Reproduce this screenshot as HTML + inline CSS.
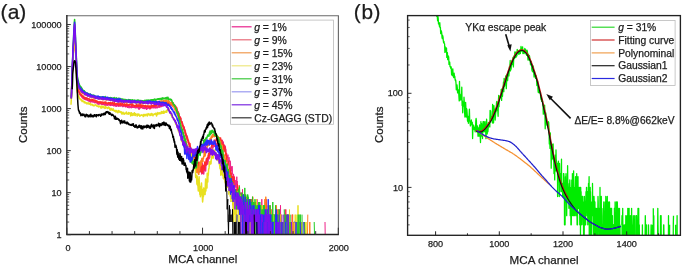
<!DOCTYPE html>
<html><head><meta charset="utf-8"><style>
html,body{margin:0;padding:0;background:#fff;}
svg{display:block;will-change:transform;}
text{font-family:"Liberation Sans", sans-serif; fill:#1c1c1c; stroke:#1c1c1c; stroke-width:0.25px;}
</style></head><body>
<svg width="685" height="270" viewBox="0 0 685 270">
<defs>
<clipPath id="ca"><rect x="67.2" y="15.9" width="270.7" height="218.8"/></clipPath>
<clipPath id="cb"><rect x="407.9" y="15.7" width="271.5" height="219.2"/></clipPath>
</defs>
<g clip-path="url(#ca)">
<path fill="none" stroke="#ee2288" stroke-width="1.5" stroke-linejoin="round" d="M71.3 98.1L71.6 92.1L71.8 84.7L72.1 77.2L72.4 69.7L72.7 63.5L72.9 58.1L73.2 52.8L73.5 48L73.7 43L74 37.8L74.3 33L74.6 30.1L74.8 32.8L75.1 38.4L75.4 44.5L75.6 51L75.9 57L76.2 63.1L76.5 68.7L76.7 74.6L77 79.6L77.3 83.9L77.5 85.6L77.8 87L78.1 88.5L78.4 90.7L78.6 91.4L78.9 92.4L79.2 93.2L79.4 94.3L79.7 94.2L80 94.8L80.3 95.1L80.5 94.7L80.8 95.8L81.1 95.9L81.3 95.9L81.6 96.8L81.9 97L82.2 97.1L82.4 97.3L82.7 98.1L83 97.7L83.2 97.3L83.5 98.7L83.8 97.8L84.1 98.3L84.3 98.8L84.6 97.9L84.9 98.6L85.1 99.6L85.4 99.2L85.7 99.1L86 99.6L86.2 99.4L86.5 99.8L86.8 99.6L87 99.3L87.3 100.3L87.6 100L87.9 100.4L88.1 100.2L88.4 101L88.7 100.8L88.9 100.7L89.2 100.3L89.5 100.2L89.8 101.5L90 101.3L90.3 100.7L90.6 102.1L90.8 101.4L91.1 101.3L91.4 100.8L91.7 101.2L91.9 101.7L92.2 101.8L92.5 101.8L92.7 101.1L93 102.1L93.3 102.1L93.6 101.8L93.8 102.1L94.1 102.2L94.4 102.7L94.6 102.3L94.9 102.5L95.2 101.8L95.5 102.1L95.7 102.5L96 102.3L96.3 102.8L96.5 102.2L96.8 102.8L97.1 102.6L97.4 103.6L97.6 102.8L97.9 103.9L98.2 104.2L98.4 103.4L98.7 103.7L99 103.3L99.3 102.3L99.5 103.9L99.8 103.9L100.1 103.5L100.3 103.4L100.6 103.8L100.9 103.8L101.2 103.4L101.4 103.5L101.7 104.3L102 103.8L102.2 103.8L102.5 104.4L102.8 103.8L103.1 104.4L103.3 103.5L103.6 103.9L103.9 104L104.1 104.3L104.4 104.1L104.7 105.1L104.9 104.7L105.2 104L105.5 105.3L105.8 103.8L106 105.2L106.3 103.9L106.6 104.7L106.8 103.9L107.1 104.3L107.4 105.2L107.7 103.8L107.9 103.7L108.2 104.5L108.5 104.6L108.7 104.6L109 105.1L109.3 104L109.6 104.9L109.8 104.7L110.1 105.1L110.4 105L110.6 105.4L110.9 104.1L111.2 104.9L111.5 104.3L111.7 104.8L112 105.2L112.3 105.1L112.5 105.2L112.8 104.9L113.1 105.2L113.4 105.2L113.6 105.8L113.9 105.5L114.2 104.2L114.4 105.5L114.7 105.7L115 105L115.3 104.5L115.5 106L115.8 105.4L116.1 105.6L116.3 106.3L116.6 105L116.9 105.4L117.2 105.4L117.4 105.8L117.7 105.2L118 105.8L118.2 105.6L118.5 106.1L118.8 106.2L119.1 104.9L119.3 105.9L119.6 105.5L119.9 105.7L120.1 105.9L120.4 106L120.7 105.4L121 105.9L121.2 105.9L121.5 105.8L121.8 105.2L122 105.5L122.3 105.7L122.6 106.2L122.9 106.7L123.1 105.5L123.4 105.5L123.7 106.1L123.9 105.7L124.2 105.6L124.5 105.6L124.8 105.6L125 106.4L125.3 105.3L125.6 106.8L125.8 105.7L126.1 105.9L126.4 105.8L126.7 105.3L126.9 105.5L127.2 106.9L127.5 107.3L127.7 105.9L128 106.9L128.3 106.4L128.6 105.9L128.8 107.3L129.1 107.6L129.4 106.3L129.6 106.5L129.9 106.6L130.2 106.5L130.5 107L130.7 107.4L131 106.7L131.3 107.2L131.5 107.6L131.8 106.4L132.1 106.7L132.4 106.5L132.6 107.3L132.9 107.1L133.2 107.3L133.4 107.3L133.7 106.7L134 107.3L134.3 106.7L134.5 106.7L134.8 105.8L135.1 107.7L135.3 106.5L135.6 107L135.9 107L136.2 107.8L136.4 107.3L136.7 106.7L137 107.1L137.2 107.1L137.5 107.3L137.8 106.5L138.1 107.2L138.3 108.5L138.6 107.6L138.9 108.4L139.1 109.2L139.4 107.6L139.7 106.6L140 107.3L140.2 108L140.5 107.9L140.8 106.8L141 107.3L141.3 107.4L141.6 107.5L141.9 107.5L142.1 107.1L142.4 107.2L142.7 107.4L142.9 108.2L143.2 107.3L143.5 108L143.8 107L144 108.4L144.3 107.7L144.6 107.7L144.8 108.4L145.1 106.8L145.4 106.9L145.7 108L145.9 107.3L146.2 107.6L146.5 109.3L146.7 107.7L147 107.8L147.3 107.8L147.6 108.5L147.8 108L148.1 108L148.4 107.2L148.6 107.7L148.9 107.9L149.2 107.1L149.5 108.3L149.7 108.2L150 109L150.3 107.1L150.5 107.4L150.8 107.4L151.1 107.5L151.4 107.7L151.6 107.7L151.9 107.9L152.2 107.8L152.4 107.6L152.7 106.8L153 107.3L153.3 107.6L153.5 107.8L153.8 107.8L154.1 106.6L154.3 107.1L154.6 107.3L154.9 107.5L155.2 107.9L155.4 107.3L155.7 106.7L156 107.4L156.2 107.3L156.5 107.2L156.8 107L157.1 107.9L157.3 107.1L157.6 107.4L157.9 106.4L158.1 107.3L158.4 106.5L158.7 106L159 106.9L159.2 107L159.5 106.6L159.8 106.6L160 107.1L160.3 106.2L160.6 105.3L160.9 106.3L161.1 106.2L161.4 106.5L161.7 105.7L161.9 106.4L162.2 106.2L162.5 104.8L162.8 105.8L163 104.6L163.3 104.3L163.6 104.8L163.8 104.5L164.1 103.7L164.4 104.7L164.7 104.7L164.9 105L165.2 104.2L165.5 103.3L165.7 103.4L166 104.3L166.3 104.3L166.6 104.1L166.8 103.7L167.1 104L167.4 103.8L167.6 103.7L167.9 104L168.2 103.9L168.5 103.8L168.7 104L169 103.7L169.3 103L169.5 103.7L169.8 104L170.1 104.9L170.4 103.9L170.6 105.2L170.9 104.9L171.2 103.8L171.4 104L171.7 104.5L172 105.3L172.2 104.7L172.5 104.9L172.8 104.3L173.1 103.5L173.3 104.6L173.6 105.2L173.9 105.5L174.1 105L174.4 105.2L174.7 106L175 105.8L175.2 107L175.5 106.2L175.8 106.8L176 107.2L176.3 108.6L176.6 108.5L176.9 109.4L177.1 110.1L177.4 110.6L177.7 111.8L177.9 112.6L178.2 111.9L178.5 113.3L178.8 113.7L179 113.9L179.3 116.6L179.6 116.6L179.8 116.6L180.1 117.2L180.4 118.5L180.7 118.2L180.9 119.6L181.2 121.6L181.5 122.2L181.7 121.6L182 122.7L182.3 125.6L182.6 123.5L182.8 125L183.1 125.1L183.4 127.5L183.6 128.2L183.9 129.9L184.2 127.1L184.5 130.5L184.7 129.5L185 132.7L185.3 132.6L185.5 135.6L185.8 134.8L186.1 134L186.4 137.6L186.6 135.5L186.9 137.2L187.2 136.1L187.4 139.4L187.7 139.8L188 140.4L188.3 143L188.5 141.4L188.8 143.1L189.1 144.4L189.3 143.6L189.6 145.3L189.9 146.6L190.2 146.6L190.4 148.7L190.7 149.6L191 148.6L191.2 149.2L191.5 152.6L191.8 150.8L192.1 153.6L192.3 153.8L192.6 156.1L192.9 158L193.1 158.2L193.4 158.8L193.7 159.4L194 155.9L194.2 158.2L194.5 157.2L194.8 160.6L195 161.6L195.3 159.1L195.6 160.3L195.9 163.7L196.1 166L196.4 162.2L196.7 170.9L196.9 162.2L197.2 172L197.5 168.3L197.8 167.8L198 169.3L198.3 166.9L198.6 169.3L198.8 169.8L199.1 168.3L199.4 166L199.7 172L199.9 166L200.2 163.7L200.5 167.4L200.7 166.5L201 171.4L201.3 169.3L201.6 169.8L201.8 173.9L202.1 173.2L202.4 162.9L202.6 173.2L202.9 170.3L203.2 170.3L203.5 172.6L203.7 173.9L204 170.9L204.3 166.9L204.5 164.4L204.8 166.9L205.1 166L205.4 164.4L205.6 170.9L205.9 164.4L206.2 163.3L206.4 158.8L206.7 164.8L207 161.2L207.3 159.1L207.5 162.6L207.8 164L208.1 161.2L208.3 155.4L208.6 155.2L208.9 155.2L209.2 158.8L209.4 154.3L209.7 157.7L210 151.2L210.2 153L210.5 151.6L210.8 152.8L211.1 151.8L211.3 154.7L211.6 149.2L211.9 151L212.1 149.4L212.4 149.6L212.7 147.2L213 147.8L213.2 145.9L213.5 145.4L213.8 145L214 146L214.3 145.9L214.6 146.3L214.9 146.4L215.1 146.4L215.4 144.6L215.7 145.2L215.9 143.9L216.2 145.7L216.5 143.4L216.8 146L217 143.2L217.3 145.2L217.6 140.6L217.8 141.9L218.1 142.3L218.4 141.6L218.7 143.5L218.9 137.6L219.2 139.7L219.5 139.9L219.7 139.9L220 140.3L220.3 140.4L220.6 142.6L220.8 139.9L221.1 141.4L221.4 142.3L221.6 142.6L221.9 141.6L222 144.8L222.2 140.3L222.5 144.2L222.8 147.6L223 145.6L223.2 141.9L223.5 146.9L223.8 145.4L224 146.3L224.2 147.2L224.5 145.7L224.8 145.9L225 146.6L225.2 146.4L225.5 149.2L225.8 149.4L226 152.6"/>
<path fill="none" stroke="#ee2288" stroke-width="1.0" stroke-linejoin="round" d="M226 152.6L226.2 155.4L226.5 154.5L226.8 153.6L227 155.2L227.2 155.6L227.5 157.4L227.8 154.9L228 154.7L228.2 159.7L228.5 161.2L228.8 160.9L229 157.2L229.2 160.6L229.5 161.6L229.8 160.3L230 169.8L230.2 161.2L230.5 162.6L230.8 173.9L231 168.8L231.2 166.9L231.5 166.9L231.8 171.4L232 166L232.2 166.9L232.5 174.5L232.8 174.5L233 175.9L233.2 181L233.5 173.9L233.8 175.9L234 181.9L234.2 181.9L234.5 176.7L234.8 183L235 186.5L235.2 180L235.5 186.5L235.8 183L236 187.9L236.2 185.3L236.5 184.1L236.8 176.7L237 192.7L237.2 181L237.5 189.3L237.8 187.9L238 194.6L238.2 209.4L238.5 202L238.8 202L239 214.6L239.2 202L239.5 190.9L239.8 196.7L240 199.2L240.2 192.7L240.5 205.3L240.8 192.7L241 202L241.2 209.4L241.5 209.4L241.8 192.7L242 199.2L242.2 214.6L242.5 189.3L242.8 205.3L243 234.7L243.2 209.4L243.5 199.2L243.8 199.2L244 214.6L244.2 222L244.5 209.4L244.8 205.3L245 205.3L245.2 194.6L245.5 196.7L245.8 202L246 222L246.2 209.4L246.5 209.4L246.8 205.3L247 209.4L247.2 209.4L247.5 202L247.8 199.2L248 209.4L248.2 222L248.5 205.3L248.8 214.6L249 214.6L249.2 202L249.5 199.2L249.8 205.3L250 209.4L250.2 214.6L250.5 202L250.8 209.4L251 209.4L251.2 222L251.5 222L251.8 209.4L252 214.6L252.2 199.2L252.5 209.4L252.8 202L253 222M253.5 209.4L253.8 222L254 209.4L254.2 222L254.5 234.7L254.8 214.6L255 209.4L255.2 222L255.5 214.6L255.8 202L256 214.6L256.2 222L256.5 202L256.8 214.6L257 199.2L257.2 214.6L257.5 205.3L257.8 209.4L258 209.4L258.2 209.4L258.5 214.6L258.8 214.6L259 209.4L259.2 214.6L259.5 222L259.8 234.7L260 222L260.2 214.6L260.5 222L260.8 222L261 214.6L261.2 222L261.5 214.6L261.8 199.2L262 214.6L262.2 234.7L262.5 214.6L262.8 214.6L263 222M263.5 222L263.8 209.4L264 205.3L264.2 214.6L264.5 234.7L264.8 214.6L265 214.6M265.5 222L265.8 205.3L266 234.7L266.2 234.7L266.5 222L266.8 214.6L267 222M267.8 214.6L268 222L268.2 234.7M268.8 222M269.2 222L269.5 222L269.8 222L270 214.6L270.2 234.7M270.8 234.7L271 209.4L271.2 222L271.5 222L271.8 234.7L272 214.6L272.2 234.7L272.5 214.6M273 214.6L273.2 234.7L273.5 214.6M274.2 214.6L274.5 222M275 222L275.2 234.7L275.5 214.6M276 234.7M276.8 234.7L277 222M277.5 222L277.8 234.7M278.2 222M278.8 222L279 209.4L279.2 234.7L279.5 234.7L279.8 222M280.2 234.7L280.5 205.3L280.8 234.7L281 234.7M281.5 234.7L281.8 234.7M282.2 214.6M282.8 214.6M283.2 234.7M283.8 234.7M284.2 234.7L284.5 234.7L284.8 234.7L285 222L285.2 209.4L285.5 234.7L285.8 234.7M286.5 234.7L286.8 214.6L287 222M287.8 234.7L288 234.7L288.2 222M288.8 214.6L289 222L289.2 234.7L289.5 234.7M290 234.7L290.2 234.7L290.5 234.7M291 234.7L291.2 234.7M291.8 222L292 234.7M292.5 214.6M293.2 234.7M293.8 234.7M294.8 234.7M295.5 234.7L295.8 234.7L296 234.7L296.2 234.7L296.5 222M297 234.7L297.2 234.7L297.5 234.7L297.8 234.7M299.2 234.7M299.8 234.7M300.5 234.7L300.8 222M301.8 234.7M302.2 234.7M302.8 234.7L303 234.7L303.2 234.7M303.8 209.4M304.8 234.7M306.2 234.7M306.8 234.7M307.2 222M307.8 222M308.2 234.7M309.2 234.7M310.2 234.7M310.8 234.7M311.2 234.7L311.5 234.7M314 234.7M315.5 234.7M316 234.7M317.5 234.7L317.8 234.7M319.8 234.7M325 222L325.2 234.7"/>
<path fill="none" stroke="#ff2a2a" stroke-width="1.5" stroke-linejoin="round" d="M71.3 98.7L71.6 92L71.8 84.7L72.1 77.1L72.4 69.9L72.7 63.6L72.9 58L73.2 53.1L73.5 48L73.7 42.8L74 37.8L74.3 32.9L74.6 30.1L74.8 32.9L75.1 38.4L75.4 44.6L75.6 50.7L75.9 56.9L76.2 62.6L76.5 68.3L76.7 74L77 79.4L77.3 83.4L77.5 85.4L77.8 86.7L78.1 87.6L78.4 89.3L78.6 89.7L78.9 91.5L79.2 91.8L79.4 92.6L79.7 93L80 92.6L80.3 93.8L80.5 94.5L80.8 94.7L81.1 94.9L81.3 94.3L81.6 95.4L81.9 95.4L82.2 96.5L82.4 96.1L82.7 96.1L83 95.8L83.2 97L83.5 96.6L83.8 96.9L84.1 97.6L84.3 97.3L84.6 97.6L84.9 98.7L85.1 97.6L85.4 97.7L85.7 98.3L86 98.9L86.2 97.7L86.5 98.3L86.8 98.1L87 98L87.3 98.9L87.6 98.4L87.9 99L88.1 99L88.4 99.1L88.7 99.1L88.9 98.7L89.2 99.3L89.5 99.5L89.8 99.6L90 99.4L90.3 100.1L90.6 100L90.8 99.9L91.1 100.2L91.4 100.1L91.7 100.4L91.9 99.3L92.2 99.6L92.5 100.1L92.7 100.4L93 99.5L93.3 100.4L93.6 100.6L93.8 100.5L94.1 100.6L94.4 100.1L94.6 100.9L94.9 100L95.2 101.4L95.5 100.7L95.7 101.6L96 100.4L96.3 101.4L96.5 101.4L96.8 101L97.1 100.9L97.4 102.1L97.6 101.8L97.9 102.4L98.2 101.7L98.4 101.9L98.7 102L99 102.3L99.3 102.2L99.5 102.4L99.8 101.9L100.1 101.5L100.3 103.2L100.6 102.3L100.9 102.5L101.2 102.1L101.4 102.8L101.7 102.4L102 102.9L102.2 102.1L102.5 102.4L102.8 102.6L103.1 102.3L103.3 102.7L103.6 103.3L103.9 102.3L104.1 102.5L104.4 102.7L104.7 102.2L104.9 102.1L105.2 103.3L105.5 103.1L105.8 102L106 102.1L106.3 103.2L106.6 103.4L106.8 103.2L107.1 103.2L107.4 103.7L107.7 103L107.9 103.6L108.2 103.6L108.5 102.6L108.7 103.4L109 103.1L109.3 102.8L109.6 102.8L109.8 103.4L110.1 103.2L110.4 103.7L110.6 102.4L110.9 103L111.2 103.9L111.5 103.3L111.7 103L112 103.2L112.3 102.5L112.5 102.8L112.8 103.8L113.1 103.6L113.4 104.2L113.6 103.4L113.9 103.5L114.2 102.3L114.4 103.6L114.7 104.8L115 104L115.3 103.7L115.5 104.4L115.8 104.2L116.1 104L116.3 103.7L116.6 103.9L116.9 104.3L117.2 103.5L117.4 104.2L117.7 104.2L118 104.7L118.2 104.4L118.5 103.7L118.8 104.9L119.1 104.1L119.3 103.8L119.6 104.4L119.9 104.1L120.1 104.8L120.4 103.6L120.7 103.7L121 104.2L121.2 105.2L121.5 104.9L121.8 103.9L122 103.5L122.3 104.2L122.6 103.8L122.9 104.7L123.1 104.6L123.4 104.5L123.7 104.3L123.9 105.3L124.2 104.1L124.5 103.9L124.8 105.2L125 105.3L125.3 104.5L125.6 105L125.8 106L126.1 104.3L126.4 104.6L126.7 105L126.9 103.7L127.2 104.7L127.5 105.2L127.7 104.8L128 105.4L128.3 105.3L128.6 104.7L128.8 105.2L129.1 105.2L129.4 104.1L129.6 104.5L129.9 104.6L130.2 104.8L130.5 104.8L130.7 104.3L131 105.1L131.3 104.2L131.5 105.7L131.8 105.3L132.1 105.9L132.4 105.4L132.6 105L132.9 104.5L133.2 105.6L133.4 105.3L133.7 105.5L134 105.7L134.3 106L134.5 105.4L134.8 106.4L135.1 105.4L135.3 105.4L135.6 105.8L135.9 106L136.2 106.3L136.4 104.6L136.7 106.3L137 104.8L137.2 105.3L137.5 105.8L137.8 106.3L138.1 105.1L138.3 104.8L138.6 106.2L138.9 105.9L139.1 105.2L139.4 105.6L139.7 104.8L140 106.1L140.2 105.6L140.5 106.6L140.8 104.8L141 106.3L141.3 107.2L141.6 106L141.9 106.1L142.1 105L142.4 106.2L142.7 106L142.9 105.7L143.2 105.2L143.5 106.1L143.8 105.6L144 105.8L144.3 106.3L144.6 106.1L144.8 106.2L145.1 106.7L145.4 105.6L145.7 107L145.9 105.6L146.2 105.8L146.5 106.3L146.7 106.7L147 106.4L147.3 106.1L147.6 105.9L147.8 106.2L148.1 105.9L148.4 106.7L148.6 106.3L148.9 107.3L149.2 106L149.5 106.4L149.7 106.7L150 105.9L150.3 106.1L150.5 108L150.8 106.3L151.1 107.1L151.4 105.7L151.6 104.9L151.9 106.4L152.2 106L152.4 106.1L152.7 105.8L153 105.6L153.3 105.2L153.5 106.3L153.8 104.9L154.1 106.2L154.3 105.5L154.6 105L154.9 105.1L155.2 106L155.4 105.8L155.7 105.6L156 105.3L156.2 104.7L156.5 105.9L156.8 104.9L157.1 104.8L157.3 104.7L157.6 104.7L157.9 104.2L158.1 104.6L158.4 104.4L158.7 104.5L159 103.8L159.2 105.7L159.5 103.9L159.8 104.7L160 104.6L160.3 104.9L160.6 105.3L160.9 104.4L161.1 104.5L161.4 103.8L161.7 104.7L161.9 103.1L162.2 103.6L162.5 103.8L162.8 103.9L163 103.9L163.3 104L163.6 103.6L163.8 103.2L164.1 103.2L164.4 103.8L164.7 103.1L164.9 103.3L165.2 102.7L165.5 101.8L165.7 102.3L166 102.7L166.3 103.3L166.6 103.3L166.8 103.4L167.1 102.3L167.4 103L167.6 102.7L167.9 103L168.2 102.7L168.5 102.1L168.7 103.2L169 103L169.3 103.3L169.5 102.5L169.8 103.5L170.1 103.6L170.4 103.8L170.6 103.9L170.9 103.1L171.2 102.1L171.4 104L171.7 103.1L172 103.5L172.2 104.3L172.5 104L172.8 104L173.1 104.4L173.3 103.1L173.6 105.2L173.9 104.1L174.1 104.4L174.4 105.3L174.7 105.4L175 105.5L175.2 106.4L175.5 106.7L175.8 107L176 109L176.3 107.5L176.6 107.5L176.9 108.7L177.1 109.3L177.4 111.5L177.7 111.4L177.9 112.6L178.2 113.2L178.5 112.9L178.8 114.8L179 115.1L179.3 117.1L179.6 116.6L179.8 117.1L180.1 118.5L180.4 119.3L180.7 118.1L180.9 121.3L181.2 122L181.5 122.5L181.7 121.7L182 121.7L182.3 123.9L182.6 125.7L182.8 126.2L183.1 125.6L183.4 128.3L183.6 126.7L183.9 127.5L184.2 129.5L184.5 129.7L184.7 130.3L185 130.2L185.3 133.8L185.5 132L185.8 134.5L186.1 135.7L186.4 135.4L186.6 136.5L186.9 138.3L187.2 139.9L187.4 137.5L187.7 139.2L188 140L188.3 140L188.5 142.8L188.8 142.8L189.1 142.9L189.3 146.4L189.6 145L189.9 143.4L190.2 146.7L190.4 147L190.7 148.1L191 150.5L191.2 148.9L191.5 150.6L191.8 149.4L192.1 154.5L192.3 155.4L192.6 152.2L192.9 158L193.1 158.2L193.4 157.2L193.7 155.4L194 156.6L194.2 156.9L194.5 162.2L194.8 161.2L195 156.9L195.3 158.8L195.6 162.2L195.9 160.6L196.1 162.6L196.4 164.8L196.7 161.2L196.9 161.2L197.2 166.9L197.5 160.3L197.8 168.3L198 162.2L198.3 168.3L198.6 164L198.8 167.4L199.1 162.2L199.4 163.3L199.7 167.4L199.9 169.8L200.2 169.3L200.5 167.4L200.7 165.2L201 168.3L201.3 172L201.6 167.4L201.8 164.4L202.1 172.6L202.4 167.8L202.6 172.6L202.9 166.9L203.2 166L203.5 165.6L203.7 166.9L204 168.3L204.3 167.8L204.5 169.8L204.8 161.9L205.1 162.9L205.4 164.4L205.6 164.8L205.9 165.2L206.2 162.6L206.4 160L206.7 162.6L207 158.8L207.3 157.7L207.5 158.8L207.8 157.7L208.1 157.2L208.3 157.4L208.6 153.4L208.9 153.6L209.2 155.4L209.4 155.2L209.7 151.6L210 151L210.2 152.2L210.5 149.1L210.8 148.1L211.1 147.5L211.3 147L211.6 146.3L211.9 144.1L212.1 145.7L212.4 146L212.7 143L213 144.4L213.2 144.4L213.5 144L213.8 143.6L214 141.9L214.3 140.1L214.6 143.1L214.9 142.8L215.1 142.9L215.4 142.5L215.7 140.6L215.9 141.6L216.2 139L216.5 140.2L216.8 139.8L217 140L217.3 139.6L217.6 138.4L217.8 138.2L218.1 138.2L218.4 137.3L218.7 141.3L218.9 138.8L219.2 140L219.5 141.4L219.7 141L220 138L220.3 139.4L220.6 138L220.8 141.8L221.1 141.7L221.4 143.5L221.6 140.4L221.9 143L222 143.9L222.2 145.3L222.5 144.8L222.8 149.2L223 148.1L223.2 145.3L223.5 146.9L223.8 144.6L224 150.3L224.2 151L224.5 150.5L224.8 150.6L225 147.5L225.2 151.6L225.5 152.6L225.8 155.4L226 152.6"/>
<path fill="none" stroke="#ff2a2a" stroke-width="1.0" stroke-linejoin="round" d="M226 152.6L226.2 160.6L226.5 154.7L226.8 161.9L227 156.9L227.2 163.3L227.5 163.3L227.8 165.6L228 165.2L228.2 164L228.5 161.2L228.8 165.2L229 166.9L229.2 172.6L229.5 170.9L229.8 167.8L230 175.9L230.2 169.8L230.5 170.3L230.8 173.2L231 181.9L231.2 172.6L231.5 175.9L231.8 178.3L232 176.7L232.2 181.9L232.5 178.3L232.8 175.9L233 175.9L233.2 190.9L233.5 181.9L233.8 180L234 176.7L234.2 185.3L234.5 186.5L234.8 187.9L235 190.9L235.2 189.3L235.5 199.2L235.8 202L236 192.7L236.2 194.6L236.5 189.3L236.8 199.2L237 189.3L237.2 196.7L237.5 184.1L237.8 199.2L238 194.6L238.2 205.3L238.5 202L238.8 187.9L239 196.7L239.2 185.3L239.5 209.4L239.8 199.2L240 202L240.2 202L240.5 199.2L240.8 194.6L241 199.2L241.2 199.2L241.5 194.6L241.8 205.3L242 205.3L242.2 205.3L242.5 214.6L242.8 209.4L243 196.7L243.2 205.3L243.5 205.3L243.8 214.6L244 199.2L244.2 209.4L244.5 205.3L244.8 194.6L245 199.2L245.2 202L245.5 205.3L245.8 202L246 209.4L246.2 205.3L246.5 214.6L246.8 202L247 199.2L247.2 205.3L247.5 205.3L247.8 214.6L248 199.2L248.2 205.3L248.5 214.6L248.8 222L249 234.7L249.2 199.2L249.5 234.7L249.8 209.4L250 214.6L250.2 199.2L250.5 214.6L250.8 214.6L251 234.7M251.5 214.6L251.8 199.2L252 214.6L252.2 209.4L252.5 214.6L252.8 202L253 209.4L253.2 214.6L253.5 234.7L253.8 222L254 214.6L254.2 205.3L254.5 202L254.8 209.4L255 209.4L255.2 234.7L255.5 205.3L255.8 205.3L256 222L256.2 222L256.5 205.3L256.8 222L257 222L257.2 205.3L257.5 222M258 214.6L258.2 222L258.5 209.4L258.8 205.3L259 234.7M259.5 222L259.8 209.4L260 222L260.2 222L260.5 214.6L260.8 209.4L261 222L261.2 214.6L261.5 209.4L261.8 234.7L262 214.6L262.2 234.7L262.5 214.6L262.8 234.7L263 234.7L263.2 209.4L263.5 209.4L263.8 214.6L264 234.7L264.2 205.3L264.5 222L264.8 222L265 222L265.2 205.3L265.5 234.7L265.8 202L266 222L266.2 199.2L266.5 214.6M267 214.6L267.2 222M267.8 214.6L268 222L268.2 234.7L268.5 214.6L268.8 214.6M269.2 222M269.8 209.4L270 205.3L270.2 214.6L270.5 214.6L270.8 222L271 214.6M271.5 214.6M272 222L272.2 222L272.5 222L272.8 234.7L273 222M273.5 214.6L273.8 214.6L274 234.7M274.5 222L274.8 234.7L275 222L275.2 222L275.5 234.7M276 234.7L276.2 234.7L276.5 234.7L276.8 234.7L277 209.4L277.2 222L277.5 234.7L277.8 234.7M278.5 234.7L278.8 234.7L279 234.7L279.2 234.7L279.5 222L279.8 234.7L280 234.7L280.2 234.7L280.5 222M281 234.7L281.2 234.7L281.5 234.7L281.8 234.7M282.2 234.7L282.5 234.7M283 234.7L283.2 234.7M283.8 222L284 222L284.2 222M284.8 234.7M285.5 214.6L285.8 222L286 209.4M286.8 214.6M287.2 234.7M288 222M288.8 234.7L289 222M289.5 214.6M290 222L290.2 234.7L290.5 234.7L290.8 222L291 234.7M291.5 222M292 214.6L292.2 222L292.5 214.6M293 214.6M293.5 222L293.8 234.7L294 234.7M294.5 234.7L294.8 234.7M295.8 234.7L296 222M296.5 234.7M297 234.7M297.8 234.7M299 234.7M299.5 222M300 234.7L300.2 234.7M300.8 214.6M301.5 234.7L301.8 222M303.2 234.7L303.5 234.7M304 234.7L304.2 234.7L304.5 234.7M308 234.7L308.2 234.7M309 234.7L309.2 234.7M311 234.7M313.2 234.7M314 234.7L314.2 234.7M316.2 234.7M318 234.7M319.5 234.7M320.2 234.7L320.5 234.7"/>
<path fill="none" stroke="#ff8020" stroke-width="1.5" stroke-linejoin="round" d="M71.3 99L71.6 91.6L71.8 83.6L72.1 75.9L72.4 67.8L72.7 61.6L72.9 56.2L73.2 51L73.5 46L73.7 40.7L74 36L74.3 30.9L74.6 28.1L74.8 30.9L75.1 36.6L75.4 42.6L75.6 48.9L75.9 54.9L76.2 60.6L76.5 66.6L76.7 72.4L77 78.2L77.3 81.4L77.5 83.6L77.8 84.3L78.1 85.4L78.4 86.9L78.6 87L78.9 88.1L79.2 88.8L79.4 89.9L79.7 90L80 90.3L80.3 90.6L80.5 91.2L80.8 90.9L81.1 91.3L81.3 91.6L81.6 92.2L81.9 91.9L82.2 92.5L82.4 93.8L82.7 93.1L83 93.1L83.2 92.9L83.5 93.5L83.8 93.6L84.1 93.9L84.3 93.6L84.6 94.2L84.9 94.4L85.1 94.6L85.4 94.2L85.7 94.8L86 95.4L86.2 94.6L86.5 95.3L86.8 94.9L87 95L87.3 94.8L87.6 95L87.9 95.7L88.1 95.6L88.4 96.2L88.7 95.1L88.9 95.7L89.2 95.4L89.5 96.2L89.8 97L90 95.7L90.3 96.3L90.6 96.4L90.8 96.6L91.1 96.4L91.4 96.6L91.7 97.6L91.9 96.5L92.2 97.3L92.5 97.3L92.7 96.4L93 96.8L93.3 97.4L93.6 98.1L93.8 97.3L94.1 97.2L94.4 97.5L94.6 98.1L94.9 97.9L95.2 98.2L95.5 97.6L95.7 97.4L96 97.4L96.3 98.2L96.5 97.8L96.8 97.7L97.1 98.2L97.4 98.1L97.6 97.2L97.9 98.1L98.2 97.9L98.4 98.5L98.7 98.3L99 99.2L99.3 98.5L99.5 98L99.8 97.7L100.1 98.1L100.3 98.3L100.6 98.7L100.9 99L101.2 98.8L101.4 98.5L101.7 99.2L102 98.5L102.2 99.4L102.5 99.8L102.8 99.4L103.1 99.8L103.3 99.7L103.6 98.6L103.9 99.2L104.1 99.1L104.4 98.7L104.7 98.7L104.9 99.5L105.2 98.7L105.5 99.2L105.8 99.4L106 99.2L106.3 100.1L106.6 99.9L106.8 99.6L107.1 99.3L107.4 99.8L107.7 99.7L107.9 99.3L108.2 99.1L108.5 99.4L108.7 99.3L109 100L109.3 100L109.6 99.8L109.8 100.1L110.1 100.2L110.4 99.3L110.6 100.2L110.9 100.6L111.2 100L111.5 99.4L111.7 100.2L112 99.7L112.3 100.5L112.5 100.6L112.8 100.7L113.1 100.5L113.4 99.7L113.6 101.1L113.9 99.8L114.2 101.1L114.4 100.8L114.7 100.3L115 100.5L115.3 100.7L115.5 101.6L115.8 100.7L116.1 101.4L116.3 99.8L116.6 101.1L116.9 100.9L117.2 101.6L117.4 101.3L117.7 101.8L118 100.7L118.2 101.4L118.5 101L118.8 101.6L119.1 101.6L119.3 100.8L119.6 101.9L119.9 102.4L120.1 101.3L120.4 102.1L120.7 101.8L121 101.1L121.2 102L121.5 101.2L121.8 101.9L122 100.9L122.3 101L122.6 101.9L122.9 101.8L123.1 102.1L123.4 101.6L123.7 101.2L123.9 102.4L124.2 101.3L124.5 102.4L124.8 102.2L125 102.7L125.3 100.8L125.6 101.8L125.8 101.7L126.1 102.2L126.4 101.4L126.7 102.9L126.9 101.9L127.2 100.9L127.5 102.1L127.7 101.9L128 101.7L128.3 102.4L128.6 102L128.8 101.6L129.1 101.9L129.4 101.9L129.6 102.2L129.9 101.9L130.2 102.1L130.5 101.4L130.7 101.8L131 102.3L131.3 103.4L131.5 101.8L131.8 101.8L132.1 102.7L132.4 103.2L132.6 102.8L132.9 101.8L133.2 102.8L133.4 102.5L133.7 102.2L134 101.7L134.3 102.4L134.5 102.4L134.8 102.6L135.1 101.6L135.3 101.9L135.6 102.5L135.9 103.1L136.2 102.8L136.4 102.2L136.7 102.8L137 102.1L137.2 102.3L137.5 102.4L137.8 102.2L138.1 102.3L138.3 103L138.6 102.8L138.9 101.5L139.1 103.2L139.4 102.9L139.7 102.1L140 102.8L140.2 103.1L140.5 103.4L140.8 102.5L141 102.2L141.3 102.1L141.6 102.7L141.9 102.3L142.1 103.3L142.4 102.7L142.7 103.1L142.9 102.7L143.2 102.4L143.5 102.3L143.8 103.3L144 102.2L144.3 103L144.6 103.3L144.8 102.9L145.1 103.5L145.4 102.8L145.7 102.7L145.9 102.9L146.2 102.5L146.5 103L146.7 102.8L147 103.5L147.3 102.8L147.6 103.2L147.8 103L148.1 102.8L148.4 102.7L148.6 103.6L148.9 103.6L149.2 102.9L149.5 102.6L149.7 102.6L150 102.4L150.3 102.1L150.5 102.5L150.8 102.7L151.1 103.2L151.4 103.2L151.6 102.9L151.9 102.5L152.2 102.5L152.4 102.6L152.7 102.7L153 102.3L153.3 102.4L153.5 102.4L153.8 102.3L154.1 102.7L154.3 103L154.6 102.2L154.9 102.2L155.2 102.5L155.4 102.6L155.7 101.3L156 102.7L156.2 102.4L156.5 102.2L156.8 102.8L157.1 102.2L157.3 101.4L157.6 101.7L157.9 101.9L158.1 101.9L158.4 102.1L158.7 101.6L159 102.2L159.2 102.3L159.5 102L159.8 101.6L160 101.8L160.3 101.6L160.6 102.8L160.9 101.2L161.1 100.6L161.4 101L161.7 101.7L161.9 101.9L162.2 101.3L162.5 101.8L162.8 100.9L163 101.4L163.3 100.6L163.6 100.4L163.8 101.9L164.1 100.7L164.4 101.1L164.7 101.4L164.9 101L165.2 100.8L165.5 100.2L165.7 101.5L166 100.4L166.3 100L166.6 100.8L166.8 100.9L167.1 101.2L167.4 101.9L167.6 101.1L167.9 101.3L168.2 101.3L168.5 100.6L168.7 101.6L169 101.9L169.3 101.5L169.5 103L169.8 103.1L170.1 102.9L170.4 103.2L170.6 102.9L170.9 103.7L171.2 103L171.4 103.5L171.7 104.2L172 105.1L172.2 105L172.5 105.2L172.8 106.5L173.1 106.1L173.3 106.3L173.6 106.9L173.9 106.5L174.1 107.1L174.4 108.8L174.7 108.7L175 109.8L175.2 109.5L175.5 110.8L175.8 110.3L176 111.1L176.3 111.2L176.6 112.4L176.9 113.9L177.1 112.5L177.4 114.6L177.7 114.5L177.9 116L178.2 116.7L178.5 116.8L178.8 118.8L179 118.9L179.3 122.1L179.6 121.1L179.8 123L180.1 123.8L180.4 124.6L180.7 125.2L180.9 124.9L181.2 129.2L181.5 128.2L181.7 129.9L182 128.8L182.3 131.3L182.6 131.2L182.8 133L183.1 132.7L183.4 133.2L183.6 135.7L183.9 136L184.2 138.8L184.5 137.4L184.7 138.7L185 139.8L185.3 138.5L185.5 142.5L185.8 145.2L186.1 143L186.4 141.7L186.6 145.7L186.9 145.4L187.2 147.8L187.4 146L187.7 149.2L188 149.4L188.3 148.7L188.5 152L188.8 152.6L189.1 153L189.3 154.7L189.6 152.6L189.9 154L190.2 157.4L190.4 158L190.7 156.4L191 156.1L191.2 156.4L191.5 158.5L191.8 156.6L192.1 159.7L192.3 157.4L192.6 161.6L192.9 164L193.1 164.4L193.4 162.6L193.7 163.7L194 164L194.2 167.8L194.5 168.3L194.8 164.8L195 167.4L195.3 166.9L195.6 168.3L195.9 171.4L196.1 165.6L196.4 167.4L196.7 172.6L196.9 165.2L197.2 169.8L197.5 164L197.8 170.9L198 166L198.3 173.9L198.6 169.8L198.8 174.5L199.1 168.8L199.4 170.3L199.7 167.8L199.9 162.9L200.2 161.9L200.5 166L200.7 165.6L201 160.6L201.3 164.8L201.6 162.2L201.8 158.5L202.1 158.2L202.4 158.2L202.6 158.8L202.9 161.6L203.2 158.5L203.5 158.5L203.7 156.4L204 156.6L204.3 150.6L204.5 153.8L204.8 153.8L205.1 155.9L205.4 154L205.6 148.9L205.9 152.6L206.2 149.2L206.4 149.6L206.7 146.9L207 147.2L207.3 146.9L207.5 142.5L207.8 144.2L208.1 143.4L208.3 143.2L208.6 145.6L208.9 143.2L209.2 143.7L209.4 142.1L209.7 141.8L210 138.7L210.2 138.4L210.5 142.5L210.8 138.7L211.1 139.6L211.3 136.4L211.6 136.6L211.9 137.5L212.1 135.2L212.4 136.9L212.7 136.9L213 134.2L213.2 134.8L213.5 135.3L213.8 134.5L214 134.2L214.3 136.7L214.6 135L214.9 136.2L215.1 134.6L215.4 135.7L215.7 133.6L215.9 134.7L216.2 136.6L216.5 135.8L216.8 137.6L217 136.2L217.3 135.8L217.6 136.4L217.8 139.6L218.1 137.8L218.4 137.4L218.7 140.3L218.9 139.9L219.2 137.7L219.5 140.5L219.7 141.2L220 143.7L220.3 141.7L220.6 141.5L220.8 144.9L221.1 145.7L221.4 145.9L221.6 147.5L221.9 145.7L222 148.1L222.2 145.2L222.5 148.6L222.8 150.8L223 152.6L223.2 155.6L223.5 154.3L223.8 154.5L224 156.6L224.2 155.4L224.5 158L224.8 155.2L225 160.3L225.2 159.1L225.5 159.4L225.8 164L226 163.3"/>
<path fill="none" stroke="#ff8020" stroke-width="1.0" stroke-linejoin="round" d="M226 163.3L226.2 163.7L226.5 164.4L226.8 166.9L227 167.4L227.2 166L227.5 168.3L227.8 168.3L228 173.2L228.2 175.9L228.5 177.5L228.8 169.3L229 172L229.2 181L229.5 186.5L229.8 176.7L230 175.9L230.2 187.9L230.5 186.5L230.8 184.1L231 181.9L231.2 187.9L231.5 184.1L231.8 189.3L232 184.1L232.2 190.9L232.5 192.7L232.8 205.3L233 190.9L233.2 196.7L233.5 190.9L233.8 194.6L234 192.7L234.2 187.9L234.5 186.5L234.8 196.7L235 199.2L235.2 189.3L235.5 196.7L235.8 196.7L236 194.6L236.2 196.7L236.5 214.6L236.8 205.3L237 199.2L237.2 194.6L237.5 199.2L237.8 209.4L238 192.7L238.2 196.7L238.5 192.7L238.8 202L239 187.9L239.2 196.7L239.5 205.3L239.8 194.6L240 196.7L240.2 209.4L240.5 196.7L240.8 205.3L241 209.4L241.2 202L241.5 205.3L241.8 196.7L242 202L242.2 214.6L242.5 209.4L242.8 196.7L243 194.6L243.2 199.2L243.5 194.6L243.8 209.4M244.2 202L244.5 209.4L244.8 205.3L245 196.7L245.2 214.6L245.5 209.4L245.8 205.3L246 209.4L246.2 202L246.5 202L246.8 196.7L247 202L247.2 214.6L247.5 209.4L247.8 202L248 214.6L248.2 209.4L248.5 199.2L248.8 202L249 205.3L249.2 202M249.8 209.4L250 199.2L250.2 222L250.5 222L250.8 222L251 209.4L251.2 222L251.5 222L251.8 234.7L252 222L252.2 234.7L252.5 222L252.8 196.7L253 209.4L253.2 234.7L253.5 214.6L253.8 222L254 222L254.2 222L254.5 234.7L254.8 202L255 222L255.2 209.4L255.5 222M256 222L256.2 202L256.5 222L256.8 205.3L257 222M257.5 205.3L257.8 234.7L258 234.7L258.2 222L258.5 214.6L258.8 234.7L259 214.6M259.8 205.3L260 205.3L260.2 234.7L260.5 209.4L260.8 234.7L261 214.6L261.2 205.3L261.5 234.7L261.8 209.4L262 209.4L262.2 214.6L262.5 214.6L262.8 222L263 205.3L263.2 214.6L263.5 214.6L263.8 214.6L264 214.6L264.2 234.7L264.5 222L264.8 199.2L265 209.4L265.2 214.6L265.5 234.7L265.8 196.7L266 209.4L266.2 234.7M267 209.4L267.2 209.4M267.8 222L268 222L268.2 205.3L268.5 222L268.8 234.7L269 234.7L269.2 222L269.5 214.6L269.8 222L270 234.7L270.2 222L270.5 234.7L270.8 234.7L271 209.4L271.2 234.7L271.5 234.7M272 222L272.2 234.7L272.5 214.6L272.8 214.6L273 234.7L273.2 214.6L273.5 214.6M274.2 222L274.5 234.7L274.8 234.7L275 222L275.2 222L275.5 234.7L275.8 209.4L276 234.7L276.2 234.7L276.5 205.3L276.8 234.7L277 234.7L277.2 234.7L277.5 222L277.8 222L278 234.7L278.2 209.4L278.5 234.7L278.8 234.7M279.5 234.7L279.8 234.7L280 222L280.2 214.6L280.5 214.6L280.8 234.7L281 214.6M281.5 222M282 234.7M283.8 234.7L284 222M285 214.6L285.2 222L285.5 222M286.2 214.6M287.5 234.7L287.8 234.7L288 222L288.2 234.7L288.5 234.7L288.8 234.7M289.5 234.7M290 234.7M290.5 234.7L290.8 234.7L291 222M291.5 234.7L291.8 234.7L292 234.7M292.5 234.7L292.8 214.6M293.8 222M294.2 222L294.5 234.7M295.2 222M296 214.6M297 234.7M297.5 234.7M298.2 234.7L298.5 234.7M299 222L299.2 234.7M300 222L300.2 234.7L300.5 234.7M301.5 234.7M302.2 234.7M303 234.7M303.5 234.7M304 222L304.2 234.7M304.8 222M306 234.7L306.2 234.7M306.8 234.7L307 234.7M307.5 234.7L307.8 214.6M309 234.7M309.5 234.7L309.8 222L310 234.7M311.2 234.7M312.2 234.7M313.2 234.7M313.8 234.7L314 234.7M314.5 234.7M316.5 234.7M317 234.7L317.2 234.7M318.5 234.7"/>
<path fill="none" stroke="#e8e020" stroke-width="1.5" stroke-linejoin="round" d="M71 104.7L71.3 99.2L71.5 92.9L71.8 85.3L72.1 78.1L72.4 71.8L72.6 66L72.9 61.1L73.2 56L73.4 51.5L73.7 46.5L74 41.8L74.3 37.2L74.5 34.2L74.8 36.2L75.1 41.4L75.3 47.4L75.6 53.4L75.9 59.6L76.2 65.9L76.4 72.8L76.7 79.4L77 86.2L77.2 91.4L77.5 93.1L77.8 93.8L78.1 94.4L78.3 94.7L78.6 96.6L78.9 96.5L79.1 98.1L79.4 98L79.7 98.1L80 99.3L80.2 99.5L80.5 98.9L80.8 99.3L81 99.8L81.3 100.5L81.6 99.5L81.9 100.9L82.1 101.4L82.4 100.4L82.7 101L82.9 101.6L83.2 101L83.5 101.7L83.8 101.6L84 101.9L84.3 102.7L84.6 101.8L84.8 102.3L85.1 103.1L85.4 103.1L85.7 102.4L85.9 103.1L86.2 103L86.5 102.8L86.7 103.2L87 104.1L87.3 103.1L87.6 103.1L87.8 103.2L88.1 102.9L88.4 103.6L88.6 103.5L88.9 103.2L89.2 104.2L89.5 103.3L89.7 103.4L90 103.9L90.3 103.5L90.5 104.1L90.8 105.1L91.1 104.1L91.4 104.6L91.6 104.7L91.9 104.9L92.2 104.3L92.4 104.8L92.7 105.5L93 104.9L93.3 104.9L93.5 105.7L93.8 105.6L94.1 105.6L94.3 105.8L94.6 105.3L94.9 105L95.2 104.6L95.4 105L95.7 105.2L96 105.1L96.2 105.1L96.5 106L96.8 105.5L97.1 105.8L97.3 106.1L97.6 106.3L97.9 106.4L98.1 106.3L98.4 106.9L98.7 106L99 106.3L99.2 106.3L99.5 106.2L99.8 106.1L100 106.8L100.3 106.7L100.6 107.6L100.9 108L101.1 107.9L101.4 106.1L101.7 108L101.9 106.8L102.2 106.4L102.5 107.5L102.8 106.4L103 106.4L103.3 107L103.6 106.3L103.8 107.3L104.1 108.1L104.4 107.4L104.6 107.9L104.9 108.4L105.2 108.3L105.5 106.3L105.7 107.8L106 107.5L106.3 107.8L106.5 107.4L106.8 107.6L107.1 107.7L107.4 108.3L107.6 108.5L107.9 108.2L108.2 107.8L108.4 106.9L108.7 107.6L109 107.3L109.3 108.2L109.5 108.6L109.8 109.5L110.1 108.8L110.3 110.2L110.6 109.2L110.9 108.2L111.2 109L111.4 108.6L111.7 109.6L112 110.3L112.2 109.9L112.5 109.9L112.8 109.1L113.1 108.7L113.3 110.4L113.6 110.3L113.9 110.2L114.1 110.4L114.4 111.1L114.7 110.4L115 110.3L115.2 110.4L115.5 111.5L115.8 110.9L116 112L116.3 110.4L116.6 111.7L116.9 111.4L117.1 111.6L117.4 111.7L117.7 112.1L117.9 112.7L118.2 110.6L118.5 111.6L118.8 111.7L119 110.7L119.3 112.1L119.6 111.8L119.8 112.2L120.1 111.5L120.4 112L120.7 112.2L120.9 112.6L121.2 112.3L121.5 111.8L121.7 113.9L122 112.7L122.3 112.9L122.6 112.8L122.8 114L123.1 112.3L123.4 113.3L123.6 113L123.9 113.2L124.2 114L124.5 113.2L124.7 114.2L125 113.6L125.3 113.3L125.5 113.1L125.8 113.1L126.1 113.3L126.4 111.9L126.6 113L126.9 114.1L127.2 113.7L127.4 113.8L127.7 113.5L128 113.8L128.3 114.1L128.5 112.5L128.8 113.5L129.1 113.8L129.3 113.8L129.6 113.8L129.9 112.8L130.2 113.4L130.4 113.1L130.7 116L131 113.7L131.2 113.2L131.5 112.7L131.8 114L132.1 115.2L132.3 113.7L132.6 114.5L132.9 115.4L133.1 114.6L133.4 113.5L133.7 113.5L134 113.8L134.2 115.1L134.5 112.8L134.8 115.2L135 114.5L135.3 115.5L135.6 113.7L135.9 114.3L136.1 114L136.4 114.6L136.7 114.7L136.9 114.6L137.2 116.1L137.5 114.1L137.8 114.2L138 115.2L138.3 114.9L138.6 114.8L138.8 114L139.1 114.8L139.4 115.1L139.7 115.5L139.9 116.2L140.2 115.6L140.5 115.2L140.7 115.5L141 115.3L141.3 114.9L141.6 115.1L141.8 115.2L142.1 115L142.4 115.3L142.6 115.4L142.9 115L143.2 116.6L143.5 114.5L143.7 116.2L144 114.7L144.3 115.2L144.5 114.4L144.8 115.1L145.1 115.8L145.4 114.4L145.6 114.9L145.9 114.9L146.2 114.9L146.4 114.3L146.7 114.4L147 114.7L147.3 116L147.5 115.1L147.8 114.7L148.1 113.6L148.3 114.5L148.6 114.8L148.9 113.9L149.2 114.7L149.4 114.6L149.7 114.5L150 115.6L150.2 113.9L150.5 114.2L150.8 114.6L151.1 115.2L151.3 114.2L151.6 113.4L151.9 114.8L152.1 115L152.4 114L152.7 115.3L153 115.8L153.2 114.5L153.5 114.6L153.8 114.3L154 114.4L154.3 113.8L154.6 114.2L154.9 114.4L155.1 114.2L155.4 113.5L155.7 113.2L155.9 113.2L156.2 113.3L156.5 116L156.8 114.3L157 113.8L157.3 113.4L157.6 114.6L157.8 112.5L158.1 113.2L158.4 113.7L158.7 113.2L158.9 113.4L159.2 113.7L159.5 112.8L159.7 113.4L160 113.9L160.3 113.4L160.6 113L160.8 113.6L161.1 112L161.4 113.5L161.6 111.6L161.9 112.1L162.2 113.2L162.5 112.4L162.7 111.7L163 112.6L163.3 113.2L163.5 112.3L163.8 111L164.1 113.2L164.4 111.8L164.6 112.1L164.9 112.1L165.2 112.2L165.4 112.1L165.7 111.2L166 111.5L166.3 112.3L166.5 110.5L166.8 112L167.1 110.4L167.3 110.4L167.6 109.4L167.9 109.6L168.2 108.9L168.4 109.6L168.7 109.4L169 110.2L169.2 109.6L169.5 111.8L169.8 111.1L170.1 112L170.3 112.7L170.6 113.6L170.9 113.4L171.1 115.2L171.4 115.7L171.7 114.7L171.9 116.9L172.2 115.3L172.5 117L172.8 117.1L173 117.7L173.3 118L173.6 119L173.8 119.6L174.1 119.9L174.4 119.5L174.7 120L174.9 120.4L175.2 121.6L175.5 122.6L175.7 124.5L176 123.1L176.3 123.6L176.6 125.4L176.8 124.9L177.1 125.2L177.4 126.9L177.6 126.6L177.9 128L178.2 130.8L178.5 130.2L178.7 130.9L179 130.7L179.3 132.9L179.5 133.2L179.8 134.6L180.1 134.3L180.4 134.9L180.6 134.6L180.9 135.6L181.2 137.1L181.4 138.5L181.7 141.4L182 138.7L182.3 140L182.5 141L182.8 143.4L183.1 139.4L183.3 142.3L183.6 144.5L183.9 142.8L184.2 144.1L184.4 147.2L184.7 146.6L185 143.1L185.2 147L185.5 146.9L185.8 151.6L186.1 145.7L186.3 150.6L186.6 149.2L186.9 149.4L187.1 151.6L187.4 146.1L187.7 151.8L188 152.4L188.2 152L188.5 152.2L188.8 152.4L189 149.9L189.3 152L189.6 152.4L189.9 152.8L190.1 154.7L190.4 154.5L190.7 157.4L190.9 161.6L191.2 153.8L191.5 159.7L191.8 155.9L192 154.9L192.3 160L192.6 160.9L192.8 162.6L193.1 162.2L193.4 158.2L193.7 165.2L193.9 165.2L194.2 164L194.5 166.9L194.7 166.9L195 169.3L195.3 165.6L195.6 176.7L195.8 177.5L196.1 175.9L196.4 175.2L196.6 177.5L196.9 184.1L197.2 175.9L197.5 185.3L197.7 179.1L198 186.5L198.3 190.9L198.5 183L198.8 186.5L199.1 176.7L199.4 189.3L199.6 190.9L199.9 194.6L200.2 186.5L200.4 196.7L200.7 194.6L201 194.6L201.3 184.1L201.5 183L201.8 190.9L202.1 192.7L202.3 196.7L202.6 202L202.9 199.2L203.2 189.3L203.4 196.7L203.7 187.9L204 194.6L204.2 190.9L204.5 190.9L204.8 192.7L205.1 194.6L205.3 186.5L205.6 179.1L205.9 190.9L206.1 181L206.4 185.3L206.7 184.1L207 187.9L207.2 173.2L207.5 178.3L207.8 181.9L208 174.5L208.3 175.2L208.6 169.8L208.9 168.8L209.1 167.4L209.4 162.6L209.7 161.9L209.9 164.4L210.2 162.2L210.5 161.2L210.8 162.6L211 163.7L211.3 159.1L211.6 158.8L211.8 156.6L212.1 157.2L212.4 154.5L212.7 149.2L212.9 153.4L213.2 158.2L213.5 154.5L213.7 154.3L214 152.8L214.3 154.9L214.6 152.4L214.8 150.1L215.1 153.2L215.4 155.2L215.6 153.8L215.9 153.4L216.2 153.8L216.5 154.9L216.7 155.6L217 155.2L217.3 156.9L217.5 160.3L217.8 155.9L218.1 154.5L218.4 161.2L218.6 156.9L218.9 157.4L219.2 160.6L219.4 164.4L219.7 165.6L220 168.8L220.3 164L220.5 161.9L220.8 175.2L221.1 166L221.3 171.4L221.6 168.8L221.9 168.8L222 171.4L222.2 173.9L222.5 175.2L222.8 173.2L223 170.9L223.2 178.3L223.5 174.5L223.8 176.7L224 179.1L224.2 178.3L224.5 177.5L224.8 174.5L225 181L225.2 183L225.5 181L225.8 181.9L226 186.5"/>
<path fill="none" stroke="#e8e020" stroke-width="1.0" stroke-linejoin="round" d="M226 186.5L226.2 184.1L226.5 186.5L226.8 183L227 181.9L227.2 184.1L227.5 187.9L227.8 183L228 184.1L228.2 184.1L228.5 192.7L228.8 194.6L229 192.7L229.2 190.9L229.5 187.9L229.8 192.7L230 187.9L230.2 196.7L230.5 192.7L230.8 202L231 202L231.2 190.9L231.5 192.7L231.8 194.6L232 192.7L232.2 202L232.5 190.9L232.8 183L233 214.6L233.2 186.5L233.5 222L233.8 202L234 196.7L234.2 202L234.5 190.9L234.8 214.6L235 209.4L235.2 222L235.5 202L235.8 196.7L236 205.3L236.2 205.3L236.5 209.4L236.8 214.6L237 209.4L237.2 209.4L237.5 196.7L237.8 209.4L238 190.9L238.2 192.7L238.5 214.6L238.8 214.6L239 222L239.2 205.3L239.5 209.4L239.8 209.4L240 209.4L240.2 194.6L240.5 209.4L240.8 222L241 199.2L241.2 202L241.5 214.6L241.8 222L242 222L242.2 214.6L242.5 209.4L242.8 209.4L243 205.3L243.2 214.6M243.8 199.2L244 209.4L244.2 202L244.5 214.6L244.8 214.6L245 202L245.2 214.6L245.5 234.7L245.8 222L246 209.4L246.2 209.4L246.5 205.3L246.8 209.4L247 234.7L247.2 199.2L247.5 202L247.8 202L248 234.7L248.2 222L248.5 209.4L248.8 205.3L249 234.7L249.2 234.7L249.5 234.7L249.8 214.6L250 222L250.2 222L250.5 234.7L250.8 214.6L251 214.6L251.2 214.6L251.5 222L251.8 214.6L252 205.3L252.2 214.6L252.5 202L252.8 234.7L253 205.3L253.2 214.6L253.5 234.7L253.8 205.3L254 234.7L254.2 234.7M254.8 214.6L255 222L255.2 214.6L255.5 214.6L255.8 209.4L256 222L256.2 234.7L256.5 199.2L256.8 222L257 222L257.2 222L257.5 205.3L257.8 214.6L258 214.6M258.5 234.7L258.8 222L259 234.7M259.5 234.7L259.8 234.7L260 234.7L260.2 222M261 209.4L261.2 234.7L261.5 214.6L261.8 205.3L262 209.4L262.2 214.6L262.5 222L262.8 222M263.2 234.7L263.5 222L263.8 234.7L264 222L264.2 222L264.5 222L264.8 234.7L265 222L265.2 214.6L265.5 222L265.8 234.7M266.2 222L266.5 214.6L266.8 214.6L267 222L267.2 234.7L267.5 214.6L267.8 222L268 234.7M268.5 234.7M269 222L269.2 234.7L269.5 222M270 214.6L270.2 214.6L270.5 234.7L270.8 214.6L271 234.7L271.2 222L271.5 222L271.8 222L272 222L272.2 214.6M272.8 222L273 234.7L273.2 214.6L273.5 222M274 214.6L274.2 234.7L274.5 214.6M275.5 209.4L275.8 234.7L276 234.7L276.2 222L276.5 234.7L276.8 222L277 222L277.2 222M278 214.6L278.2 234.7L278.5 234.7L278.8 222M279.2 222L279.5 234.7M280 234.7L280.2 234.7L280.5 234.7L280.8 234.7L281 234.7L281.2 214.6L281.5 222L281.8 234.7L282 222L282.2 234.7L282.5 234.7L282.8 234.7L283 234.7L283.2 222M283.8 214.6L284 222M284.5 222L284.8 234.7L285 222M285.5 234.7L285.8 234.7M286.2 222L286.5 234.7L286.8 234.7M287.5 234.7L287.8 234.7M288.2 234.7M288.8 234.7L289 234.7L289.2 234.7L289.5 209.4M290.2 234.7L290.5 234.7L290.8 234.7M291.5 222L291.8 234.7M292.2 234.7L292.5 234.7M294 222L294.2 234.7M295 222L295.2 214.6L295.5 222L295.8 234.7M296.2 214.6L296.5 234.7M297 234.7M297.8 234.7L298 205.3L298.2 234.7L298.5 234.7L298.8 234.7M299.2 234.7M301 234.7L301.2 222M301.8 234.7L302 234.7M303.2 234.7M304.2 234.7M305 222L305.2 234.7M305.8 234.7L306 222L306.2 234.7M309.8 234.7M311.5 234.7M313 234.7M316 234.7M317.5 234.7M318.5 234.7M321 234.7M323.5 234.7"/>
<path fill="none" stroke="#22cc22" stroke-width="1.5" stroke-linejoin="round" d="M71.3 98.2L71.6 90.9L71.8 81.6L72.1 73.1L72.4 64.1L72.7 57L72.9 51.1L73.2 45.2L73.5 39.5L73.7 33.9L74 28.3L74.3 22.6L74.6 19.4L74.8 22.2L75.1 28.2L75.4 34.7L75.6 41.3L75.9 47.9L76.2 53.8L76.5 59.9L76.7 65.7L77 71L77.3 75.6L77.5 77.5L77.8 78.7L78.1 80L78.4 81.2L78.6 82.1L78.9 83.4L79.2 83.8L79.4 84.9L79.7 85.1L80 86.1L80.3 86.1L80.5 86.8L80.8 86.6L81.1 87.2L81.3 87.7L81.6 87.8L81.9 88.3L82.2 88.9L82.4 89.6L82.7 90.2L83 90L83.2 90.4L83.5 90.7L83.8 90.9L84.1 91.6L84.3 90.8L84.6 92L84.9 92.1L85.1 91.9L85.4 93L85.7 92.4L86 92.6L86.2 93.2L86.5 93.6L86.8 93.5L87 94.1L87.3 93.1L87.6 93.6L87.9 94L88.1 94.2L88.4 93.8L88.7 93.6L88.9 94.7L89.2 94.6L89.5 95.1L89.8 94.3L90 94.6L90.3 94L90.6 94.9L90.8 95.2L91.1 95.4L91.4 94.9L91.7 96L91.9 95.2L92.2 95.4L92.5 95.8L92.7 96L93 95.3L93.3 95.1L93.6 96L93.8 95.7L94.1 95.3L94.4 96.3L94.6 96.2L94.9 96.7L95.2 96.3L95.5 96.4L95.7 96.5L96 96.7L96.3 97.1L96.5 97.1L96.8 97L97.1 96.5L97.4 97L97.6 97.2L97.9 96.6L98.2 96.7L98.4 97.3L98.7 97.3L99 96.9L99.3 97.1L99.5 97.6L99.8 97.3L100.1 97.4L100.3 97L100.6 97.8L100.9 97.1L101.2 97.3L101.4 97.9L101.7 97.1L102 97.1L102.2 98.1L102.5 96.7L102.8 98L103.1 97.9L103.3 97.7L103.6 97.3L103.9 97.4L104.1 97.6L104.4 97.1L104.7 97.5L104.9 97.1L105.2 96.5L105.5 97.6L105.8 98.8L106 97.9L106.3 98.2L106.6 97.7L106.8 97.7L107.1 98.3L107.4 98.3L107.7 97.9L107.9 97.9L108.2 98.9L108.5 97.5L108.7 97.9L109 97.9L109.3 97.8L109.6 98.4L109.8 98L110.1 97.6L110.4 97.6L110.6 97.9L110.9 98.3L111.2 98.5L111.5 97.7L111.7 98L112 98.4L112.3 99.2L112.5 98.7L112.8 99.2L113.1 97.9L113.4 98.3L113.6 98.8L113.9 98.6L114.2 97.4L114.4 98L114.7 99.2L115 98.7L115.3 99.2L115.5 99.4L115.8 98.6L116.1 97.7L116.3 98.1L116.6 98.8L116.9 99L117.2 98.8L117.4 98.5L117.7 99.6L118 99.8L118.2 98.2L118.5 98.9L118.8 98.4L119.1 99L119.3 98.5L119.6 99.5L119.9 99L120.1 98.6L120.4 98.9L120.7 99.5L121 99L121.2 99.7L121.5 100.1L121.8 99.3L122 98.9L122.3 99.2L122.6 100.2L122.9 99.2L123.1 99.4L123.4 99.9L123.7 100.9L123.9 99.3L124.2 99.4L124.5 99.6L124.8 100.7L125 100.6L125.3 99.5L125.6 99.6L125.8 99.7L126.1 100.1L126.4 99.8L126.7 100.3L126.9 100.2L127.2 100.5L127.5 100L127.7 100.3L128 99.7L128.3 99.8L128.6 100.5L128.8 99.4L129.1 100.7L129.4 100L129.6 99.8L129.9 99.7L130.2 101.3L130.5 99.8L130.7 99.8L131 99.7L131.3 101.4L131.5 100.7L131.8 100.4L132.1 100.6L132.4 99.8L132.6 100.8L132.9 99.9L133.2 100.2L133.4 101.2L133.7 101L134 100.8L134.3 100.5L134.5 100.1L134.8 100.7L135.1 100.2L135.3 101.4L135.6 102.2L135.9 100.9L136.2 100.5L136.4 100.9L136.7 101.2L137 100.6L137.2 99.9L137.5 100.9L137.8 101.2L138.1 101.3L138.3 100L138.6 100.9L138.9 100.6L139.1 100.4L139.4 100.5L139.7 101.4L140 100.5L140.2 100.6L140.5 100.8L140.8 100.5L141 101.2L141.3 101L141.6 101.2L141.9 100.6L142.1 101.2L142.4 100.7L142.7 101.4L142.9 100.9L143.2 101L143.5 100.9L143.8 100.8L144 100.9L144.3 100.9L144.6 101.8L144.8 100.3L145.1 101.1L145.4 100.9L145.7 101.2L145.9 100.3L146.2 101.2L146.5 100.5L146.7 100.2L147 100L147.3 100.2L147.6 100.4L147.8 101.3L148.1 100.1L148.4 100.1L148.6 100.3L148.9 100.3L149.2 100.6L149.5 100.9L149.7 100.1L150 100L150.3 101L150.5 100.1L150.8 100.4L151.1 100L151.4 100.3L151.6 99.8L151.9 99.8L152.2 99.8L152.4 100.8L152.7 99.8L153 100.1L153.3 100.6L153.5 99.7L153.8 100.6L154.1 99.5L154.3 99.1L154.6 100.1L154.9 99.4L155.2 99.6L155.4 99.4L155.7 100.3L156 99.4L156.2 99.5L156.5 99.2L156.8 99.5L157.1 99L157.3 99.3L157.6 99.1L157.9 98.7L158.1 99.2L158.4 98.8L158.7 99.1L159 98.9L159.2 99.3L159.5 98.7L159.8 98.5L160 99L160.3 98.6L160.6 98.7L160.9 99.4L161.1 98.7L161.4 98.2L161.7 99L161.9 99.5L162.2 98.6L162.5 98.9L162.8 97.8L163 98.6L163.3 98.5L163.6 98.8L163.8 98.4L164.1 98.7L164.4 98.8L164.7 98.4L164.9 98.7L165.2 97.7L165.5 98.8L165.7 98.2L166 98.5L166.3 98.7L166.6 97.4L166.8 99L167.1 97.4L167.4 98.6L167.6 98.1L167.9 97.3L168.2 99.4L168.5 99.2L168.7 98.2L169 98.9L169.3 99.3L169.5 99.3L169.8 99.8L170.1 99.5L170.4 99.1L170.6 100.1L170.9 100L171.2 99.7L171.4 99.5L171.7 100.9L172 100.8L172.2 101.7L172.5 102.2L172.8 102.6L173.1 103.2L173.3 104.2L173.6 104.9L173.9 104.7L174.1 104.8L174.4 104.7L174.7 106.2L175 106.7L175.2 106.9L175.5 107.5L175.8 108.6L176 109.2L176.3 108.7L176.6 110.6L176.9 111.4L177.1 112.8L177.4 112.1L177.7 113.3L177.9 112.9L178.2 115.4L178.5 115.7L178.8 116.7L179 117.3L179.3 120.6L179.6 119.4L179.8 121.7L180.1 122.9L180.4 124.2L180.7 125.3L180.9 126.4L181.2 129.5L181.5 127.7L181.7 129.1L182 131.1L182.3 131.1L182.6 129.7L182.8 132.5L183.1 134.3L183.4 132.9L183.6 136.7L183.9 136.9L184.2 138.3L184.5 135.9L184.7 139.9L185 142.4L185.3 139.2L185.5 139.8L185.8 144L186.1 143.1L186.4 144.9L186.6 144.4L186.9 148.6L187.2 152L187.4 152L187.7 149.6L188 148.9L188.3 149.9L188.5 153L188.8 157.7L189.1 153.6L189.3 155.4L189.6 156.6L189.9 154.5L190.2 158.8L190.4 160.9L190.7 160.6L191 162.2L191.2 162.2L191.5 162.6L191.8 158.8L192.1 159.4L192.3 163.7L192.6 161.9L192.9 161.2L193.1 162.2L193.4 162.2L193.7 161.9L194 168.3L194.2 166L194.5 163.3L194.8 168.3L195 161.9L195.3 160.9L195.6 163.7L195.9 160.9L196.1 163.3L196.4 167.8L196.7 162.9L196.9 162.6L197.2 163.3L197.5 157.7L197.8 159.1L198 157.7L198.3 155.4L198.6 153.8L198.8 152.2L199.1 152.2L199.4 154.5L199.7 152.8L199.9 151.8L200.2 155.4L200.5 151.6L200.7 151.2L201 152.6L201.3 147.2L201.6 149.9L201.8 149.4L202.1 144.4L202.4 146L202.6 145.7L202.9 144.2L203.2 145.7L203.5 145L203.7 139.9L204 141.5L204.3 145.3L204.5 140.3L204.8 139.4L205.1 143L205.4 140.7L205.6 139.7L205.9 138.8L206.2 137.5L206.4 138.5L206.7 138.7L207 137.5L207.3 136.8L207.5 135.7L207.8 134.9L208.1 135.2L208.3 135.2L208.6 135.4L208.9 136.3L209.2 134.6L209.4 132.7L209.7 132.8L210 131.1L210.2 133.1L210.5 134.7L210.8 131.5L211.1 131L211.3 133.1L211.6 133.3L211.9 131.1L212.1 130.3L212.4 131.9L212.7 130.8L213 131.3L213.2 132L213.5 132.5L213.8 131.3L214 132.1L214.3 132.7L214.6 135.3L214.9 130.9L215.1 134L215.4 133.4L215.7 134.9L215.9 133.6L216.2 136.3L216.5 135L216.8 135.9L217 135.3L217.3 138.3L217.6 138.3L217.8 142.4L218.1 138.4L218.4 137.4L218.7 141.6L218.9 139.3L219.2 141L219.5 141.7L219.7 142.6L220 144.6L220.3 145.3L220.6 147.3L220.8 145.7L221.1 146L221.4 152L221.6 152.4L221.9 151.6L222 150.1L222.2 154.5L222.5 151.4L222.8 150.8L223 154.7L223.2 155.6L223.5 161.2L223.8 160.3L224 160.3L224.2 162.6L224.5 161.9L224.8 167.4L225 165.6L225.2 160.6L225.5 165.2L225.8 167.4L226 166"/>
<path fill="none" stroke="#22cc22" stroke-width="1.0" stroke-linejoin="round" d="M226 166L226.2 164.4L226.5 171.4L226.8 172L227 170.3L227.2 163.7L227.5 166.5L227.8 172.6L228 172L228.2 186.5L228.5 169.3L228.8 173.2L229 183L229.2 180L229.5 184.1L229.8 175.2L230 181L230.2 181.9L230.5 178.3L230.8 189.3L231 181.9L231.2 178.3L231.5 192.7L231.8 181L232 181.9L232.2 181L232.5 185.3L232.8 202L233 190.9L233.2 189.3L233.5 202L233.8 199.2L234 194.6L234.2 192.7L234.5 189.3L234.8 196.7L235 196.7L235.2 199.2L235.5 189.3L235.8 190.9L236 190.9L236.2 192.7L236.5 209.4L236.8 192.7L237 196.7L237.2 199.2L237.5 192.7L237.8 202L238 199.2L238.2 190.9L238.5 189.3L238.8 192.7L239 199.2L239.2 189.3L239.5 186.5L239.8 192.7L240 209.4L240.2 209.4L240.5 205.3L240.8 196.7L241 196.7L241.2 196.7L241.5 205.3L241.8 192.7L242 202L242.2 205.3L242.5 214.6L242.8 202L243 199.2L243.2 194.6L243.5 205.3L243.8 234.7L244 194.6L244.2 222L244.5 209.4L244.8 187.9L245 205.3L245.2 194.6L245.5 205.3L245.8 209.4L246 199.2L246.2 202L246.5 209.4L246.8 199.2L247 202L247.2 194.6L247.5 209.4L247.8 194.6L248 222L248.2 196.7L248.5 205.3L248.8 234.7L249 205.3L249.2 222L249.5 202L249.8 205.3L250 202L250.2 199.2L250.5 214.6L250.8 222L251 202L251.2 202L251.5 202L251.8 209.4L252 214.6L252.2 205.3L252.5 196.7L252.8 209.4L253 209.4L253.2 205.3L253.5 202L253.8 209.4L254 234.7L254.2 209.4L254.5 214.6L254.8 214.6L255 199.2L255.2 222L255.5 205.3L255.8 209.4L256 234.7L256.2 214.6L256.5 209.4L256.8 205.3L257 205.3L257.2 234.7L257.5 222L257.8 205.3L258 214.6L258.2 222L258.5 205.3L258.8 202L259 205.3M259.5 222L259.8 202L260 209.4L260.2 205.3L260.5 209.4L260.8 205.3L261 214.6L261.2 222L261.5 234.7L261.8 214.6L262 209.4L262.2 222M262.8 214.6L263 209.4L263.2 234.7L263.5 205.3L263.8 234.7M264.2 222L264.5 205.3L264.8 222L265 222L265.2 214.6M265.8 214.6L266 222L266.2 222L266.5 214.6L266.8 209.4L267 234.7L267.2 234.7L267.5 214.6L267.8 209.4L268 222M268.5 234.7L268.8 222L269 234.7M269.8 234.7L270 205.3L270.2 214.6L270.5 222L270.8 222L271 214.6L271.2 222L271.5 222L271.8 222L272 214.6L272.2 234.7L272.5 222L272.8 202L273 234.7M273.5 234.7L273.8 234.7L274 234.7L274.2 234.7L274.5 234.7L274.8 214.6L275 214.6L275.2 234.7L275.5 205.3L275.8 234.7L276 214.6L276.2 234.7L276.5 222L276.8 214.6L277 222M277.5 234.7L277.8 214.6L278 214.6L278.2 222L278.5 234.7L278.8 234.7L279 234.7L279.2 209.4L279.5 214.6L279.8 234.7L280 234.7L280.2 234.7L280.5 234.7M281 209.4M281.5 222L281.8 234.7L282 222L282.2 234.7L282.5 222M283 234.7M283.5 234.7L283.8 222M284.2 209.4L284.5 222L284.8 222L285 234.7L285.2 234.7L285.5 234.7L285.8 214.6L286 222L286.2 234.7M286.8 222M287.2 214.6L287.5 214.6L287.8 234.7L288 214.6L288.2 234.7L288.5 234.7M289 222L289.2 234.7M290 234.7L290.2 214.6M290.8 222M291.2 234.7L291.5 234.7M292 234.7M292.8 209.4M293.8 234.7M294.5 234.7M295.2 222M295.8 234.7M296.2 234.7L296.5 234.7M297.2 222L297.5 234.7L297.8 234.7L298 234.7L298.2 214.6L298.5 234.7M299 234.7M299.8 214.6L300 234.7L300.2 214.6L300.5 222L300.8 222M301.5 234.7M302 214.6L302.2 234.7L302.5 234.7L302.8 234.7M303.2 214.6M303.8 222M304.5 222L304.8 234.7L305 234.7M306.8 234.7L307 234.7M308.2 234.7M309 222M310.5 234.7L310.8 234.7M311.2 234.7L311.5 234.7L311.8 234.7L312 234.7M313.8 234.7M314.2 222L314.5 234.7M315.8 234.7L316 234.7M316.5 234.7M317.2 234.7M319.8 234.7M321 234.7M322.2 234.7L322.5 234.7M327.2 234.7"/>
<path fill="none" stroke="#2a2aff" stroke-width="1.5" stroke-linejoin="round" d="M71.3 97.5L71.6 91.6L71.8 81.8L72.1 73.1L72.4 64.6L72.7 57.5L72.9 51.4L73.2 46.5L73.5 41.1L73.7 35.6L74 30.4L74.3 25.4L74.6 22.3L74.8 25L75.1 30.8L75.4 37.1L75.6 43.6L75.9 49.9L76.2 55.7L76.5 62.2L76.7 67.8L77 73.2L77.3 77.7L77.5 79.6L77.8 81.1L78.1 81.9L78.4 83.3L78.6 84.1L78.9 85.1L79.2 86.1L79.4 86.7L79.7 87L80 87.4L80.3 88.3L80.5 87.9L80.8 88.6L81.1 88.8L81.3 90L81.6 89.6L81.9 89.5L82.2 90.3L82.4 91.3L82.7 90.9L83 91.2L83.2 91.3L83.5 91.6L83.8 91.5L84.1 92.1L84.3 92L84.6 92.5L84.9 92.4L85.1 92.3L85.4 93L85.7 92.8L86 93.6L86.2 93.5L86.5 93.6L86.8 93.1L87 94L87.3 93.3L87.6 94.5L87.9 94.1L88.1 93.8L88.4 94L88.7 94.8L88.9 95L89.2 94.3L89.5 95.2L89.8 94.6L90 95.2L90.3 95.1L90.6 94.3L90.8 94.7L91.1 95.1L91.4 96.1L91.7 95.5L91.9 95.7L92.2 95.8L92.5 95.3L92.7 96.6L93 95.8L93.3 96L93.6 96.4L93.8 95.4L94.1 96.7L94.4 96.2L94.6 96.2L94.9 97.2L95.2 97L95.5 96.8L95.7 96.1L96 96.1L96.3 96.3L96.5 96.5L96.8 97.6L97.1 96.6L97.4 97L97.6 96.3L97.9 96.3L98.2 96L98.4 96.7L98.7 96.7L99 97.5L99.3 97.1L99.5 97.7L99.8 96.8L100.1 97.8L100.3 97.4L100.6 97.7L100.9 97.6L101.2 97.2L101.4 97.7L101.7 97.4L102 97.9L102.2 96.9L102.5 97.8L102.8 97.2L103.1 96.7L103.3 98.8L103.6 98.1L103.9 97.8L104.1 97.3L104.4 98L104.7 97.7L104.9 98.2L105.2 97.7L105.5 98.5L105.8 97.6L106 99.4L106.3 98.9L106.6 97.3L106.8 98L107.1 98.5L107.4 97.2L107.7 97.7L107.9 97.7L108.2 98.4L108.5 98L108.7 98.1L109 99.1L109.3 98.1L109.6 98.5L109.8 97.9L110.1 97.9L110.4 98.8L110.6 98.8L110.9 98.5L111.2 98.4L111.5 98.9L111.7 98.8L112 98.5L112.3 98.7L112.5 98.4L112.8 98.8L113.1 99.4L113.4 99.8L113.6 98.7L113.9 99.3L114.2 99.3L114.4 99.3L114.7 100L115 99.5L115.3 100.6L115.5 99.6L115.8 99.9L116.1 98.7L116.3 99.3L116.6 99.7L116.9 99.5L117.2 99.3L117.4 100.1L117.7 99.9L118 100L118.2 98.7L118.5 99.9L118.8 100.9L119.1 99.6L119.3 98.9L119.6 100.5L119.9 98.6L120.1 100.2L120.4 99.7L120.7 100.5L121 100.4L121.2 100.9L121.5 100.9L121.8 101.5L122 99.9L122.3 101.1L122.6 100.4L122.9 100.5L123.1 101L123.4 100.7L123.7 100.8L123.9 101L124.2 100.8L124.5 100.9L124.8 101.4L125 101.6L125.3 101.4L125.6 100.9L125.8 100.4L126.1 100.3L126.4 100.9L126.7 100.6L126.9 101L127.2 100.6L127.5 101.1L127.7 100.9L128 101.3L128.3 101.2L128.6 100.3L128.8 101.8L129.1 101.2L129.4 101.5L129.6 100.8L129.9 100.4L130.2 101.4L130.5 102.7L130.7 101L131 101L131.3 102.2L131.5 101.5L131.8 101.4L132.1 102.6L132.4 101.1L132.6 101.2L132.9 101.3L133.2 102L133.4 101.8L133.7 101.8L134 101.3L134.3 102L134.5 100.8L134.8 101.4L135.1 102.7L135.3 100.8L135.6 101.5L135.9 101.9L136.2 101.6L136.4 102.6L136.7 101.6L137 102.9L137.2 102.2L137.5 101.1L137.8 101.1L138.1 101.9L138.3 102.2L138.6 101.3L138.9 101.8L139.1 101.7L139.4 101.5L139.7 102.4L140 101.5L140.2 103L140.5 101.2L140.8 102.7L141 102.2L141.3 102.3L141.6 101.6L141.9 101.6L142.1 101.8L142.4 101.7L142.7 101.7L142.9 102L143.2 102.9L143.5 103.1L143.8 103.1L144 101.9L144.3 102L144.6 102L144.8 101.8L145.1 102L145.4 102.4L145.7 102.6L145.9 102.8L146.2 101.2L146.5 101.4L146.7 102.5L147 101.9L147.3 101.6L147.6 101L147.8 102.1L148.1 101.7L148.4 101.2L148.6 102.6L148.9 102.1L149.2 101.7L149.5 102.1L149.7 100.7L150 101.3L150.3 101.6L150.5 102.2L150.8 101.3L151.1 101.5L151.4 102.1L151.6 102L151.9 102.6L152.2 101.9L152.4 101.5L152.7 101.4L153 101.6L153.3 101.5L153.5 102.3L153.8 102.2L154.1 101.4L154.3 101.8L154.6 102.5L154.9 101.8L155.2 101.7L155.4 101.8L155.7 102.1L156 102.4L156.2 102L156.5 101.4L156.8 102.2L157.1 102.6L157.3 102.1L157.6 102.9L157.9 102.2L158.1 102.5L158.4 101.9L158.7 102.3L159 101.9L159.2 101.3L159.5 102.6L159.8 102.9L160 102.3L160.3 102.6L160.6 102.5L160.9 102.9L161.1 102.3L161.4 102.6L161.7 103.8L161.9 102.9L162.2 102.6L162.5 102.2L162.8 103.1L163 103.3L163.3 102.3L163.6 103.3L163.8 102.9L164.1 102.8L164.4 102.7L164.7 103.2L164.9 103.9L165.2 102.9L165.5 103.7L165.7 103.8L166 102.6L166.3 103.3L166.6 104.4L166.8 104.2L167.1 104.2L167.4 104.6L167.6 105.5L167.9 104.2L168.2 104.3L168.5 104.8L168.7 105.3L169 105.2L169.3 105.1L169.5 106.3L169.8 106.2L170.1 106.7L170.4 106.4L170.6 107L170.9 108.3L171.2 108.3L171.4 107.3L171.7 109.3L172 109L172.2 109.8L172.5 109.1L172.8 110.2L173.1 110.9L173.3 111.9L173.6 111.7L173.9 111.5L174.1 112.1L174.4 113.9L174.7 112.5L175 114.1L175.2 115.2L175.5 114.8L175.8 115.9L176 116.3L176.3 116.9L176.6 116.9L176.9 117.8L177.1 119.5L177.4 118.6L177.7 120.4L177.9 119.9L178.2 121.4L178.5 122.2L178.8 123.5L179 123.5L179.3 125.9L179.6 127.5L179.8 127.1L180.1 131.6L180.4 130L180.7 130.5L180.9 132.4L181.2 131.6L181.5 133.4L181.7 135.2L182 137L182.3 136.2L182.6 137.3L182.8 142.6L183.1 140.4L183.4 144.9L183.6 144.9L183.9 147L184.2 145L184.5 149.4L184.7 154L185 149.7L185.3 149.6L185.5 150.8L185.8 154L186.1 151.4L186.4 153.2L186.6 148.9L186.9 158.5L187.2 152L187.4 152.4L187.7 153.8L188 154.5L188.3 154.5L188.5 154.3L188.8 159.4L189.1 154.7L189.3 151.4L189.6 153.6L189.9 154.7L190.2 161.9L190.4 156.1L190.7 156.6L191 161.6L191.2 159.7L191.5 160.3L191.8 157.7L192.1 159.4L192.3 159.7L192.6 159.1L192.9 153.6L193.1 155.9L193.4 156.1L193.7 154L194 152.8L194.2 155.9L194.5 152.4L194.8 151.6L195 155.9L195.3 153.4L195.6 154.3L195.9 154.5L196.1 151L196.4 152.6L196.7 148.6L196.9 154.3L197.2 150.3L197.5 146.6L197.8 148.6L198 150.1L198.3 149.7L198.6 152.6L198.8 151.6L199.1 149.4L199.4 149.9L199.7 147L199.9 147.3L200.2 148.2L200.5 146L200.7 146.7L201 146.7L201.3 149.1L201.6 147.5L201.8 144.6L202.1 144.4L202.4 146.4L202.6 145.4L202.9 145.6L203.2 146.4L203.5 145.4L203.7 144.2L204 145.6L204.3 144L204.5 145.7L204.8 145.7L205.1 142.5L205.4 142.2L205.6 144.2L205.9 142.3L206.2 142.2L206.4 140.8L206.7 145.2L207 139.7L207.3 140.5L207.5 144.8L207.8 142.9L208.1 142.5L208.3 140.6L208.6 142.2L208.9 141.7L209.2 140.5L209.4 144.9L209.7 142.8L210 144.2L210.2 142.9L210.5 144.1L210.8 141.7L211.1 139.8L211.3 140.1L211.6 142.2L211.9 144L212.1 141.4L212.4 143.7L212.7 143.4L213 144.1L213.2 143.5L213.5 144L213.8 144.2L214 141L214.3 141.1L214.6 144.1L214.9 141.1L215.1 142.5L215.4 144.4L215.7 144.6L215.9 149.6L216.2 149.9L216.5 146.1L216.8 150.3L217 147.3L217.3 145.7L217.6 151.8L217.8 147.5L218.1 149.7L218.4 148.9L218.7 152.4L218.9 151.8L219.2 156.6L219.5 150.6L219.7 149.7L220 151.8L220.3 152.8L220.6 157.2L220.8 157.2L221.1 154.7L221.4 154.5L221.6 155.6L221.9 160.9L222 160L222.2 160.6L222.5 164.4L222.8 159.4L223 164.8L223.2 169.3L223.5 167.8L223.8 162.2L224 164.4L224.2 163.7L224.5 173.2L224.8 165.6L225 169.3L225.2 171.4L225.5 166.9L225.8 169.8L226 168.8"/>
<path fill="none" stroke="#2a2aff" stroke-width="1.0" stroke-linejoin="round" d="M226 168.8L226.2 169.8L226.5 173.2L226.8 185.3L227 172.6L227.2 176.7L227.5 181L227.8 171.4L228 183L228.2 180L228.5 181.9L228.8 181L229 183L229.2 185.3L229.5 179.1L229.8 178.3L230 183L230.2 190.9L230.5 194.6L230.8 184.1L231 190.9L231.2 178.3L231.5 190.9L231.8 192.7L232 190.9L232.2 199.2L232.5 185.3L232.8 183L233 192.7L233.2 189.3L233.5 189.3L233.8 185.3L234 199.2L234.2 196.7L234.5 199.2L234.8 189.3L235 194.6L235.2 194.6L235.5 196.7L235.8 194.6L236 192.7L236.2 199.2L236.5 205.3L236.8 196.7L237 192.7L237.2 194.6L237.5 194.6L237.8 199.2L238 199.2L238.2 199.2L238.5 199.2L238.8 194.6L239 205.3L239.2 205.3L239.5 214.6L239.8 202L240 214.6L240.2 214.6L240.5 209.4L240.8 202L241 196.7L241.2 205.3L241.5 202L241.8 205.3L242 214.6L242.2 209.4L242.5 234.7L242.8 205.3L243 214.6L243.2 194.6L243.5 202L243.8 202L244 209.4L244.2 209.4L244.5 222L244.8 209.4L245 214.6L245.2 196.7L245.5 209.4L245.8 222L246 214.6L246.2 214.6L246.5 209.4L246.8 214.6L247 234.7L247.2 222L247.5 199.2L247.8 202L248 234.7L248.2 214.6L248.5 209.4L248.8 214.6L249 209.4L249.2 222L249.5 222L249.8 199.2L250 222M250.5 209.4L250.8 202M251.2 205.3L251.5 234.7L251.8 222L252 222L252.2 214.6L252.5 214.6L252.8 209.4L253 205.3L253.2 214.6L253.5 222L253.8 209.4L254 205.3L254.2 214.6L254.5 214.6L254.8 214.6L255 214.6L255.2 214.6L255.5 222M256 209.4L256.2 222L256.5 234.7L256.8 209.4L257 209.4L257.2 234.7L257.5 209.4L257.8 222L258 209.4L258.2 222L258.5 205.3L258.8 209.4L259 234.7L259.2 222L259.5 205.3L259.8 209.4L260 209.4L260.2 234.7L260.5 214.6L260.8 222L261 234.7L261.2 222L261.5 214.6L261.8 222L262 214.6L262.2 234.7L262.5 214.6M263.2 234.7L263.5 214.6M264.2 234.7L264.5 214.6M265 222L265.2 209.4L265.5 214.6L265.8 222L266 222L266.2 234.7M266.8 234.7L267 222L267.2 234.7M267.8 234.7L268 222L268.2 199.2L268.5 234.7L268.8 214.6M269.2 222L269.5 222L269.8 214.6M270.2 214.6L270.5 234.7L270.8 214.6L271 234.7L271.2 234.7L271.5 234.7M272 222L272.2 234.7L272.5 222L272.8 222L273 234.7L273.2 222L273.5 222L273.8 222M274.2 222L274.5 222M275 234.7M275.5 214.6L275.8 222L276 234.7L276.2 209.4L276.5 234.7L276.8 214.6L277 234.7M277.5 234.7L277.8 222L278 222M278.8 222L279 234.7M280 234.7L280.2 234.7M280.8 234.7L281 222L281.2 222L281.5 234.7M282 234.7L282.2 222M283.2 234.7L283.5 234.7M284 234.7M284.5 234.7M285.2 234.7L285.5 222L285.8 222M286.5 234.7L286.8 234.7L287 214.6M288.2 234.7M288.8 234.7M289.2 234.7M290.2 214.6M290.8 222M292 234.7M292.8 222M293.2 234.7M293.8 222L294 222L294.2 222L294.5 222L294.8 222M295.2 234.7L295.5 234.7L295.8 234.7L296 222L296.2 234.7M297.5 234.7L297.8 234.7M298.5 234.7L298.8 234.7M299.8 234.7M300.2 222L300.5 234.7M301.8 234.7L302 234.7M302.8 234.7M303.8 222L304 234.7M305.2 234.7L305.5 234.7L305.8 234.7M306.2 234.7L306.5 234.7M307.5 234.7L307.8 234.7L308 234.7M308.8 234.7M309.2 234.7M310 234.7M310.5 234.7M311.2 222M313.5 234.7M316.5 234.7M317.8 234.7M320.5 234.7M323.5 234.7M326.2 234.7"/>
<path fill="none" stroke="#7f10ee" stroke-width="1.5" stroke-linejoin="round" d="M71.3 98.6L71.6 91.2L71.8 82.7L72.1 74.6L72.4 66.4L72.7 59.4L72.9 53.6L73.2 48.3L73.5 43L73.7 37.8L74 32.5L74.3 27.2L74.6 24.3L74.8 26.9L75.1 32.9L75.4 39.2L75.6 45.5L75.9 51.9L76.2 58.1L76.5 63.8L76.7 69.6L77 75.3L77.3 79.7L77.5 81.2L77.8 82L78.1 84.2L78.4 85.6L78.6 86.6L78.9 87.7L79.2 88.6L79.4 89L79.7 88.7L80 89L80.3 89.2L80.5 89.8L80.8 90.6L81.1 90.4L81.3 91.3L81.6 91.6L81.9 92.3L82.2 91.6L82.4 91.9L82.7 92.6L83 92.7L83.2 92.8L83.5 92.9L83.8 92.8L84.1 93.3L84.3 93.3L84.6 94.2L84.9 93.9L85.1 94.7L85.4 93.5L85.7 93.8L86 94.2L86.2 94.2L86.5 93.9L86.8 94.4L87 95.5L87.3 95L87.6 96L87.9 95.5L88.1 95.7L88.4 95.3L88.7 95.2L88.9 95.9L89.2 95.7L89.5 95.6L89.8 95.8L90 95.9L90.3 97L90.6 96.2L90.8 95.8L91.1 96.1L91.4 96.9L91.7 96.5L91.9 96.4L92.2 97L92.5 96.4L92.7 97L93 96.9L93.3 96.9L93.6 96L93.8 97.1L94.1 97.3L94.4 96.8L94.6 97.4L94.9 97.2L95.2 98.3L95.5 97.3L95.7 97.5L96 98.1L96.3 97L96.5 97.8L96.8 97.8L97.1 98.4L97.4 98.6L97.6 98.2L97.9 98.7L98.2 97.8L98.4 97.8L98.7 98.5L99 99L99.3 98.5L99.5 98.9L99.8 98.4L100.1 98.4L100.3 98.7L100.6 98.6L100.9 98.2L101.2 97.9L101.4 98.9L101.7 98.4L102 98.9L102.2 99.3L102.5 98.3L102.8 98.7L103.1 98.8L103.3 98.8L103.6 99L103.9 99.5L104.1 98.3L104.4 98.7L104.7 99L104.9 98.7L105.2 98.6L105.5 99.3L105.8 99L106 99.4L106.3 99L106.6 99.5L106.8 98.3L107.1 99.6L107.4 99.2L107.7 99.3L107.9 99.7L108.2 99.1L108.5 99.6L108.7 99.8L109 99.6L109.3 100L109.6 99.2L109.8 99.5L110.1 99.3L110.4 100.4L110.6 99.7L110.9 100.2L111.2 99.9L111.5 99.4L111.7 99.9L112 100.1L112.3 99.5L112.5 99.6L112.8 99.3L113.1 101L113.4 100L113.6 100.4L113.9 100.7L114.2 100.2L114.4 100.9L114.7 101.4L115 100.8L115.3 100.5L115.5 99.6L115.8 100.8L116.1 101.1L116.3 101.5L116.6 100.8L116.9 100.7L117.2 100.6L117.4 101.4L117.7 101.1L118 101.9L118.2 100.7L118.5 101.6L118.8 102.2L119.1 100.4L119.3 100.7L119.6 100.8L119.9 100.8L120.1 101.5L120.4 100.5L120.7 101.6L121 100.2L121.2 101L121.5 102L121.8 100.7L122 100.2L122.3 101.3L122.6 100.7L122.9 101.3L123.1 101.5L123.4 102.5L123.7 100.6L123.9 101.4L124.2 101.1L124.5 101.8L124.8 101.7L125 100.8L125.3 101.5L125.6 101.5L125.8 101.9L126.1 101.3L126.4 101L126.7 101.6L126.9 101.5L127.2 102L127.5 100.8L127.7 101.7L128 101.5L128.3 100.7L128.6 101.6L128.8 102.3L129.1 102L129.4 101.7L129.6 100.7L129.9 101.5L130.2 101.7L130.5 101.2L130.7 101L131 102L131.3 101L131.5 101.2L131.8 101.4L132.1 102.8L132.4 101.6L132.6 101L132.9 101.9L133.2 100.7L133.4 101.7L133.7 102.3L134 101.5L134.3 101.7L134.5 101.4L134.8 101.9L135.1 101.2L135.3 102.1L135.6 101.8L135.9 102.5L136.2 102.3L136.4 101.8L136.7 102.2L137 102.2L137.2 102.1L137.5 101.8L137.8 101.6L138.1 101.6L138.3 101.5L138.6 101.9L138.9 102.3L139.1 102.8L139.4 102.2L139.7 102.5L140 103L140.2 101.3L140.5 103.1L140.8 102L141 101.9L141.3 102.3L141.6 101L141.9 102.2L142.1 102.6L142.4 101.4L142.7 102.7L142.9 103L143.2 102.8L143.5 102.6L143.8 102.3L144 102.2L144.3 103.1L144.6 102.2L144.8 101.4L145.1 102.8L145.4 102.5L145.7 102.1L145.9 101.9L146.2 102.9L146.5 103L146.7 103.1L147 102.1L147.3 102.2L147.6 103.7L147.8 103.7L148.1 103.3L148.4 103.5L148.6 102.5L148.9 102.6L149.2 101.8L149.5 102.4L149.7 102.7L150 102.2L150.3 103.3L150.5 103.6L150.8 102.9L151.1 102.5L151.4 103.8L151.6 102.6L151.9 102.6L152.2 103.3L152.4 103L152.7 103.3L153 103.1L153.3 102.8L153.5 103.6L153.8 102.7L154.1 102.9L154.3 102.9L154.6 104.4L154.9 104.4L155.2 103.1L155.4 103.8L155.7 103.9L156 103.9L156.2 104.3L156.5 103.7L156.8 104L157.1 104L157.3 103.4L157.6 104.3L157.9 103.2L158.1 105L158.4 102.6L158.7 104.6L159 103.6L159.2 103.5L159.5 104L159.8 103.6L160 104.1L160.3 105L160.6 103.9L160.9 103.6L161.1 104.5L161.4 105.2L161.7 104.6L161.9 104.2L162.2 104.2L162.5 103.9L162.8 104.2L163 104.3L163.3 105.7L163.6 103.7L163.8 104.9L164.1 104.6L164.4 105.4L164.7 105.4L164.9 105.4L165.2 104.8L165.5 104.9L165.7 105.5L166 105L166.3 106.6L166.6 106.4L166.8 107.2L167.1 106.6L167.4 107.6L167.6 107.4L167.9 107.3L168.2 109.9L168.5 107.9L168.7 109.4L169 110.2L169.3 111.7L169.5 111.2L169.8 113L170.1 111.9L170.4 112.5L170.6 111.7L170.9 113.6L171.2 113.1L171.4 113.5L171.7 113.5L172 115.5L172.2 115.3L172.5 117.5L172.8 117.7L173.1 117.6L173.3 117.9L173.6 119.4L173.9 119.3L174.1 118.9L174.4 120.3L174.7 120.6L175 121.7L175.2 120.4L175.5 120.6L175.8 122.5L176 123.5L176.3 122.6L176.6 124.3L176.9 126.1L177.1 127.4L177.4 127.4L177.7 125.4L177.9 128.7L178.2 126.1L178.5 129.6L178.8 130.5L179 129.7L179.3 132.1L179.6 132.2L179.8 134.6L180.1 135.7L180.4 135.8L180.7 135.4L180.9 137.3L181.2 139.9L181.5 137.4L181.7 137.5L182 136.8L182.3 140.6L182.6 141.5L182.8 144.9L183.1 141.7L183.4 142.2L183.6 142.2L183.9 143.9L184.2 143.9L184.5 141.9L184.7 144.1L185 146.1L185.3 146.9L185.5 147.6L185.8 144.1L186.1 149.6L186.4 149.1L186.6 152.6L186.9 149.6L187.2 148.9L187.4 150.8L187.7 146.6L188 148.4L188.3 150.1L188.5 148.6L188.8 149.9L189.1 150.6L189.3 153.6L189.6 148.2L189.9 150.1L190.2 153.4L190.4 151.2L190.7 147.9L191 150.5L191.2 151.8L191.5 152L191.8 151.4L192.1 152.2L192.3 152.4L192.6 149.6L192.9 149.2L193.1 154.5L193.4 150.5L193.7 151.6L194 149.7L194.2 152.6L194.5 153.6L194.8 149.2L195 151.6L195.3 151.4L195.6 148.9L195.9 150.1L196.1 150.1L196.4 148.4L196.7 149.7L196.9 150.8L197.2 153.2L197.5 150.3L197.8 151.2L198 150.8L198.3 149.2L198.6 152.2L198.8 151.8L199.1 150.8L199.4 152.2L199.7 151.2L199.9 151L200.2 149.4L200.5 147.8L200.7 150.3L201 150.6L201.3 148.1L201.6 148.6L201.8 147.3L202.1 148.6L202.4 147.5L202.6 149.4L202.9 152.4L203.2 150.8L203.5 146.7L203.7 150.3L204 147.6L204.3 147.3L204.5 148.6L204.8 148.7L205.1 149.9L205.4 145.7L205.6 147.6L205.9 148.4L206.2 152.6L206.4 152.4L206.7 152L207 148.2L207.3 151.8L207.5 149.4L207.8 151L208.1 149.9L208.3 149.2L208.6 151.6L208.9 152L209.2 151.2L209.4 150.3L209.7 147.9L210 150.1L210.2 149.2L210.5 150.6L210.8 154.3L211.1 150.5L211.3 151.6L211.6 151.2L211.9 149.4L212.1 152.8L212.4 155.2L212.7 152.2L213 152.8L213.2 150.3L213.5 153.8L213.8 153.4L214 154.3L214.3 151.6L214.6 152.4L214.9 153.8L215.1 155.4L215.4 154.7L215.7 158.8L215.9 152.8L216.2 153.8L216.5 158.5L216.8 159.7L217 156.4L217.3 154.5L217.6 155.2L217.8 158.8L218.1 157.4L218.4 156.4L218.7 154.9L218.9 160.3L219.2 163.3L219.5 159.4L219.7 158L220 160.6L220.3 160.6L220.6 160.9L220.8 161.9L221.1 160L221.4 165.6L221.6 163.3L221.9 160.9L222 169.8L222.2 166.9L222.5 166.9L222.8 164.4L223 164L223.2 169.3L223.5 166.9L223.8 168.8L224 168.3L224.2 172.6L224.5 167.8L224.8 173.9L225 172.6L225.2 178.3L225.5 179.1L225.8 175.9L226 177.5"/>
<path fill="none" stroke="#7f10ee" stroke-width="1.0" stroke-linejoin="round" d="M226 177.5L226.2 172.6L226.5 175.9L226.8 174.5L227 180L227.2 185.3L227.5 180L227.8 186.5L228 180L228.2 181.9L228.5 177.5L228.8 181.9L229 190.9L229.2 183L229.5 186.5L229.8 185.3L230 186.5L230.2 190.9L230.5 187.9L230.8 185.3L231 183L231.2 190.9L231.5 185.3L231.8 185.3L232 185.3L232.2 181.9L232.5 184.1L232.8 194.6L233 189.3L233.2 202L233.5 187.9L233.8 196.7L234 190.9L234.2 186.5L234.5 185.3L234.8 194.6L235 209.4L235.2 199.2L235.5 199.2L235.8 199.2L236 199.2L236.2 196.7L236.5 202L236.8 192.7L237 205.3L237.2 196.7L237.5 202L237.8 209.4L238 196.7L238.2 192.7L238.5 209.4L238.8 202L239 196.7L239.2 199.2L239.5 196.7L239.8 199.2L240 209.4L240.2 209.4L240.5 196.7L240.8 222L241 234.7L241.2 199.2L241.5 209.4L241.8 199.2L242 214.6L242.2 214.6L242.5 202L242.8 209.4L243 205.3L243.2 209.4L243.5 214.6L243.8 205.3L244 234.7L244.2 214.6L244.5 214.6L244.8 222L245 234.7L245.2 202L245.5 205.3L245.8 205.3L246 202L246.2 209.4L246.5 209.4L246.8 222L247 214.6L247.2 222L247.5 199.2L247.8 234.7L248 209.4L248.2 214.6L248.5 209.4L248.8 234.7L249 222L249.2 205.3L249.5 214.6L249.8 205.3M250.2 209.4L250.5 222M251 209.4L251.2 234.7L251.5 214.6L251.8 214.6L252 234.7L252.2 214.6L252.5 214.6L252.8 234.7L253 222L253.2 209.4L253.5 234.7L253.8 222L254 234.7L254.2 234.7L254.5 234.7L254.8 214.6L255 222L255.2 209.4L255.5 214.6L255.8 214.6L256 222L256.2 209.4M256.8 222L257 214.6L257.2 222L257.5 214.6L257.8 209.4L258 234.7L258.2 209.4L258.5 234.7L258.8 222L259 234.7L259.2 222L259.5 214.6L259.8 214.6M260.2 222M260.8 234.7M261.2 234.7L261.5 214.6L261.8 222M262.2 214.6L262.5 222L262.8 222M263.8 234.7L264 234.7L264.2 222L264.5 234.7L264.8 234.7L265 222L265.2 214.6L265.5 234.7L265.8 234.7L266 234.7L266.2 209.4L266.5 214.6L266.8 234.7L267 214.6L267.2 222L267.5 214.6L267.8 222L268 214.6L268.2 234.7L268.5 222L268.8 209.4M269.2 214.6L269.5 234.7L269.8 214.6M270.2 222L270.5 234.7M271.2 222L271.5 234.7M273 234.7M273.8 234.7M275.5 234.7L275.8 222L276 234.7M276.5 222L276.8 222M277.5 222L277.8 234.7L278 234.7M278.5 222L278.8 234.7M279.2 214.6L279.5 234.7M280 234.7M280.5 234.7M281 222M281.5 234.7L281.8 234.7L282 214.6M282.5 234.7L282.8 234.7M283.8 214.6L284 234.7M284.5 234.7M285 234.7L285.2 234.7M286 234.7M286.5 234.7L286.8 234.7L287 234.7M287.8 234.7L288 234.7L288.2 214.6L288.5 234.7L288.8 234.7M291.5 222L291.8 234.7M293.2 234.7L293.5 234.7M294.2 234.7M294.8 234.7M296.8 234.7M298 234.7M298.8 234.7L299 234.7L299.2 234.7M300 234.7M301.8 234.7M302.2 234.7M307 234.7L307.2 234.7M310 234.7M311.2 234.7M312 234.7M313.2 234.7M315.8 234.7"/>
<path fill="none" stroke="#000000" stroke-width="1.5" stroke-linejoin="round" d="M72.2 89.3L72.5 82.4L72.7 74.5L73 70.8L73.3 68.1L73.6 66L73.8 63.7L74.1 62L74.4 61L74.6 60.8L74.9 60.9L75.2 61.6L75.5 62.7L75.7 65.7L76 69.2L76.3 74L76.5 78.1L76.8 82.7L77.1 88.1L77.4 93.3L77.6 98.4L77.9 104.1L78.2 107.5L78.4 109.5L78.7 110.7L79 110.7L79.3 111.8L79.5 113.1L79.8 112.5L80.1 113.5L80.3 112.9L80.6 114.3L80.9 115.7L81.2 115.1L81.4 114.3L81.7 114.2L82 114.7L82.2 114L82.5 115.5L82.8 115.3L83.1 114.3L83.3 115L83.6 115L83.9 114.3L84.1 114.5L84.4 115.9L84.7 115.3L85 116.7L85.2 115.5L85.5 115.3L85.8 116.8L86 114.6L86.3 114.3L86.6 115.3L86.9 115.1L87.1 114.7L87.4 115.9L87.7 115.1L87.9 115.5L88.2 116.9L88.5 116.5L88.8 116.3L89 115.2L89.3 115.9L89.6 115.3L89.8 116.3L90.1 116.9L90.4 114.6L90.7 114.2L90.9 115.6L91.2 116L91.5 115.1L91.7 116.6L92 115.9L92.3 116.8L92.6 115.4L92.8 115.6L93.1 116L93.4 116.1L93.6 116.7L93.9 116.2L94.2 114.8L94.5 115.8L94.7 114.7L95 116.1L95.3 115.5L95.5 115.8L95.8 115.6L96.1 114.9L96.4 116.8L96.6 114.8L96.9 114.9L97.2 115.3L97.4 115.2L97.7 115.4L98 114.7L98.3 115.1L98.5 115.7L98.8 115L99.1 114.5L99.3 114.8L99.6 115L99.9 114.9L100.2 115.3L100.4 115.2L100.7 116.2L101 115L101.2 114.1L101.5 115L101.8 115.3L102.1 114.1L102.3 114.5L102.6 114.5L102.9 114.2L103.1 114L103.4 114.4L103.7 114.9L104 113.2L104.2 114.1L104.5 114.5L104.8 113.7L105 112.9L105.3 114.4L105.6 112.5L105.8 113.2L106.1 111.8L106.4 112.4L106.7 112.7L106.9 111.7L107.2 111.6L107.5 112.5L107.7 112.2L108 112.7L108.3 111.9L108.6 113.4L108.8 112.7L109.1 114.1L109.4 112.4L109.6 114.3L109.9 113.7L110.2 113L110.5 113.6L110.7 113.9L111 114.5L111.3 114.4L111.5 115.5L111.8 114.4L112.1 114.3L112.4 114.6L112.6 115.3L112.9 114.7L113.2 115.5L113.4 115.4L113.7 116L114 116.5L114.3 117.2L114.5 118.8L114.8 116.7L115.1 117.4L115.3 116.2L115.6 119.2L115.9 117.3L116.2 118.8L116.4 118.3L116.7 119.2L117 118.5L117.2 119L117.5 118.5L117.8 119.2L118.1 119.2L118.3 118.8L118.6 119.6L118.9 120.3L119.1 119.4L119.4 120.6L119.7 120.5L120 121.2L120.2 121.6L120.5 123.7L120.8 120.7L121 122.3L121.3 120.9L121.6 120.2L121.9 122.7L122.1 121.1L122.4 121.9L122.7 121.6L122.9 123L123.2 122.1L123.5 122.1L123.8 121.2L124 120.8L124.3 122.2L124.6 122.9L124.8 121L125.1 122.9L125.4 122.9L125.7 122.9L125.9 122.7L126.2 122.6L126.5 123.7L126.7 123.4L127 122L127.3 122.3L127.6 123.3L127.8 123.5L128.1 124L128.4 123.1L128.6 124.5L128.9 124L129.2 124.6L129.5 124.8L129.7 124.4L130 124.5L130.3 125.1L130.5 124.7L130.8 124.6L131.1 125.2L131.4 125.4L131.6 125L131.9 124.4L132.2 124.1L132.4 125L132.7 125.4L133 125.3L133.3 123.7L133.5 124.6L133.8 126.3L134.1 125.6L134.3 126.1L134.6 126L134.9 127.3L135.2 125.8L135.4 127.1L135.7 126.5L136 124.7L136.2 125.2L136.5 126.9L136.8 127.2L137.1 127.1L137.3 128.1L137.6 127.3L137.9 126.7L138.1 127.5L138.4 126L138.7 126.8L139 127.3L139.2 125.3L139.5 126.3L139.8 126.9L140 125.4L140.3 126L140.6 127.9L140.9 127L141.1 127.7L141.4 128.8L141.7 125.8L141.9 126.1L142.2 128.6L142.5 126.9L142.8 128.9L143 126.4L143.3 127.3L143.6 127.5L143.8 126.1L144.1 127.2L144.4 127.4L144.7 126.3L144.9 127.4L145.2 126.3L145.5 127L145.7 126.3L146 126.4L146.3 126.2L146.6 127.8L146.8 125.2L147.1 127L147.4 125.3L147.6 127.3L147.9 127L148.2 126.9L148.5 125.6L148.7 127L149 126.2L149.3 128L149.5 127L149.8 126.3L150.1 126.6L150.4 128.2L150.6 125.9L150.9 127.2L151.2 124.7L151.4 126.5L151.7 124.3L152 125.6L152.3 125.8L152.5 126.6L152.8 126.2L153.1 125.6L153.3 127.8L153.6 125.1L153.9 127L154.2 126.1L154.4 128.5L154.7 125.4L155 125.1L155.2 125.5L155.5 125.4L155.8 126L156.1 125.5L156.3 124.6L156.6 125.9L156.9 125.1L157.1 124.8L157.4 125.6L157.7 125.2L158 125.1L158.2 125.7L158.5 123.2L158.8 125.5L159 123.6L159.3 124L159.6 126.7L159.9 124.5L160.1 123.8L160.4 123.9L160.7 125.3L160.9 124.2L161.2 125.4L161.5 125.2L161.8 124.4L162 123.9L162.3 122.7L162.6 123.6L162.8 123L163.1 124.8L163.4 124.7L163.7 124L163.9 122.1L164.2 124.7L164.5 125L164.7 123.8L165 122.9L165.3 125.4L165.6 124.2L165.8 125.3L166.1 123L166.4 123.7L166.6 124.2L166.9 124.5L167.2 124.8L167.5 124.6L167.7 125.4L168 125.7L168.3 126L168.5 125.3L168.8 126.4L169.1 125.3L169.4 128.4L169.6 126.3L169.9 126.7L170.2 126.4L170.4 128.2L170.7 130.2L171 130.4L171.3 129.2L171.5 131.5L171.8 132.5L172.1 133.5L172.3 133.8L172.6 134.8L172.9 137.4L173.1 137.2L173.4 136.4L173.7 140.2L174 138.9L174.2 142.2L174.5 141.1L174.8 143.5L175 147.2L175.3 146L175.6 145.6L175.9 145.3L176.1 146.4L176.4 147L176.7 151.4L176.9 154.3L177.2 149.6L177.5 154.9L177.8 157.2L178 152L178.3 155.2L178.6 156.4L178.8 159.1L179.1 157.4L179.4 158.8L179.7 160.3L179.9 153.4L180.2 155.2L180.5 160L180.7 158L181 160.9L181.3 157.4L181.6 156.4L181.8 160L182.1 164L182.4 164L182.6 158.8L182.9 162.2L183.2 158.5L183.5 160.3L183.7 160.3L184 165.2L184.3 165.2L184.5 164.8L184.8 164.8L185.1 162.9L185.4 165.6L185.6 165.2L185.9 165.2L186.2 169.8L186.4 168.8L186.7 172L187 170.3L187.3 173.2L187.5 168.3L187.8 178.3L188.1 177.5L188.3 174.5L188.6 173.2L188.9 172L189.2 175.2L189.4 181L189.7 175.9L190 181.9L190.2 172.6L190.5 180L190.8 181.9L191.1 177.5L191.3 180L191.6 180L191.9 175.2L192.1 170.9L192.4 170.3L192.7 172.6L193 170.3L193.2 170.3L193.5 167.8L193.8 165.6L194 164L194.3 167.8L194.6 159.7L194.9 162.9L195.1 162.6L195.4 160L195.7 166L195.9 157.7L196.2 156.4L196.5 154.9L196.8 158.2L197 160.3L197.3 153.6L197.6 151.2L197.8 150.3L198.1 150.3L198.4 153L198.7 149.2L198.9 150.5L199.2 151.6L199.5 147.9L199.7 146.7L200 145.6L200.3 145.2L200.6 141.5L200.8 144.4L201.1 141.2L201.4 139.2L201.6 139.5L201.9 140.4L202.2 137.7L202.5 137.6L202.7 136.3L203 137.1L203.3 138.3L203.5 134.4L203.8 134.5L204.1 132.7L204.4 130.8L204.6 132.2L204.9 131L205.2 131.9L205.4 129.4L205.7 129.3L206 128.8L206.3 127.5L206.5 128.8L206.8 126.5L207.1 126L207.3 124.6L207.6 127.4L207.9 125.5L208.2 123.3L208.4 125.3L208.7 125.1L209 123L209.2 122.1L209.5 123.8L209.8 124.3L210.1 124L210.3 123.5L210.6 123.7L210.9 123.4L211.1 122.6L211.4 123.1L211.7 123.3L212 124.2L212.2 125.9L212.5 124.7L212.8 125.7L213 127.1L213.3 127.3L213.6 127.3L213.9 128.1L214.1 128.9L214.4 128.6L214.7 128.8L214.9 130.9L215.2 131.4L215.5 133.7L215.8 133.6L216 133.9L216.3 134.5L216.6 136.3L216.8 137.6L217.1 140L217.4 138.8L217.7 140.6L217.9 143.2L218.2 143.2L218.5 145.3L218.7 145.9L219 144L219.3 149.2L219.6 149.9L219.8 150.3L220.1 149.2L220.4 151L220.6 153.4L220.9 153.4L221.2 155.4L221.5 154.5L221.7 156.1L222 156.9L222 157.7L222.2 158L222.5 163.7L222.8 161.9L223 159.7L223.2 161.9L223.5 170.3L223.8 165.2L224 171.4L224.2 168.8L224.5 166.9L224.8 172.6L225 177.5L225.2 177.5L225.5 177.5L225.8 190.9L226 181"/>
<path fill="none" stroke="#000000" stroke-width="1.0" stroke-linejoin="round" d="M226 181L226.2 187.9L226.5 190.9L226.8 190.9L227 202L227.2 209.4L227.5 202L227.8 199.2L228 222L228.2 222L228.5 234.7L228.8 214.6L229 214.6L229.2 209.4L229.5 205.3L229.8 222L230 214.6L230.2 209.4M230.8 214.6L231 222L231.2 214.6M232 222L232.2 222L232.5 209.4L232.8 234.7M233.2 234.7M234 234.7L234.2 222L234.5 234.7L234.8 234.7L235 222L235.2 222L235.5 234.7L235.8 234.7L236 222L236.2 222M236.8 234.7L237 214.6M237.8 234.7M238.2 234.7L238.5 222L238.8 222L239 234.7L239.2 222M239.8 222L240 234.7L240.2 234.7M241.2 234.7L241.5 234.7M242.2 222M243.5 234.7M244.2 234.7M244.8 222M245.2 222L245.5 222L245.8 234.7L246 234.7L246.2 222L246.5 234.7M247.2 234.7M249.2 234.7M249.8 234.7L250 234.7M250.8 234.7L251 234.7M251.5 234.7M252.5 234.7M253 234.7L253.2 234.7M254.2 214.6L254.5 234.7M255.2 234.7M256 234.7L256.2 234.7M256.8 222L257 234.7M258.8 234.7L259 234.7L259.2 234.7L259.5 234.7L259.8 234.7M261 234.7M262.5 234.7M263.8 234.7M264.5 234.7L264.8 234.7M266.2 234.7M273.5 234.7M275 234.7L275.2 234.7M276 222M280.2 234.7M284.5 234.7M285.5 234.7M289.2 234.7M291.8 234.7M305.2 234.7M309 222"/>
</g>
<g clip-path="url(#cb)">
<path fill="none" stroke="#00ec00" stroke-width="1.3" stroke-linejoin="round" d="M428 -17.4L428.3 -18.3L428.6 -15.9L429 -14.1L429.3 -17.3L429.6 -13.3L429.9 -13L430.2 -9.8L430.5 -10.6L430.9 -10L431.2 -7.7L431.5 -5.8L431.8 -4L432.1 -5.4L432.5 -2.4L432.8 0.9L433.1 0.2L433.4 0.5L433.7 0.4L434.1 7.9L434.4 5.6L434.7 4L435 8.1L435.3 8.8L435.6 13.2L436 9.5L436.3 13.3L436.6 16.2L436.9 15L437.2 15L437.6 20.8L437.9 16.3L438.2 18.3L438.5 23.9L438.8 23.5L439.1 23.7L439.5 26.6L439.8 22.7L440.1 27.8L440.4 27.4L440.7 33.7L441.1 32.8L441.4 31L441.7 32.8L442 37.3L442.3 38.6L442.6 35.5L443 36.9L443.3 40.6L443.6 42.7L443.9 41.3L444.2 43.4L444.6 43.9L444.9 52.4L445.2 46.7L445.5 49.5L445.8 50.5L446.2 52L446.5 48L446.8 57.4L447.1 52.6L447.4 52.7L447.7 59.6L448.1 55.7L448.4 56.3L448.7 57.2L449 64.4L449.3 61.8L449.7 62L450 66.4L450.3 66.4L450.6 68.2L450.9 68.2L451.2 66.9L451.6 74.6L451.9 70L452.2 75.4L452.5 69.7L452.8 68.8L453.2 76.5L453.5 77L453.8 77.6L454.1 73.1L454.4 75.9L454.8 76.2L455.1 79.5L455.4 80.7L455.7 80.1L456 83.2L456.3 89.8L456.7 86.5L457 84.8L457.3 87.9L457.6 92.9L457.9 89.8L458.3 89.8L458.6 90.5L458.9 96.3L459.2 100.9L459.5 81.3L459.8 100.4L460.2 99L460.5 95.4L460.8 99.9L461.1 94.1L461.4 99.5L461.8 87.2L462.1 105.6L462.4 100.9L462.7 112.8L463 104L463.4 101.9L463.7 106.2L464 97.2L464.3 102.4L464.6 112.8L464.9 117L465.3 109.1L465.6 102.4L465.9 107.9L466.2 117L466.5 108.5L466.9 109.7L467.2 114.2L467.5 120.8L467.8 121.6L468.1 116.3L468.4 123.3L468.8 119.2L469.1 117L469.4 109.1L469.7 120L470 121.6L470.4 125.9L470.7 121.6L471 123.3L471.3 120L471.6 122.5L471.9 125L472.3 122.5L472.6 138.6L472.9 127.8L473.2 125L473.5 128.8L473.9 125.9L474.2 129.7L474.5 129.7L474.8 127.8L475.1 131.8L475.5 129.7L475.8 120.8L476.1 118.5L476.4 120.8L476.7 131.8L477 131.8L477.4 125.9L477.7 127.8L478 136.2L478.3 127.8L478.6 135.1L479 136.2L479.3 136.2L479.6 125L479.9 135.1L480.2 135.1L480.5 142.5L480.9 121.6L481.2 136.2L481.5 123.3L481.8 133.9L482.1 125L482.5 138.6L482.8 125.9L483.1 121.6L483.4 131.8L483.7 121.6L484.1 127.8L484.4 131.8L484.7 127.8L485 121.6L485.3 130.7L485.6 129.7L486 138.6L486.3 126.9L486.6 119.2L486.9 124.2L487.2 133.9L487.6 125L487.9 131.8L488.2 127.8L488.5 122.5L488.8 126.9L489.1 125.9L489.5 123.3L489.8 126.9L490.1 110.3L490.4 114.9L490.7 110.9L491.1 119.2L491.4 116.3L491.7 117L492 119.2L492.3 122.5L492.6 104.5L493 123.3L493.3 118.5L493.6 122.5L493.9 105.6L494.2 111.5L494.6 109.1L494.9 114.2L495.2 120L495.5 114.9L495.8 112.2L496.2 111.5L496.5 102.9L496.8 101.4L497.1 110.3L497.4 102.9L497.7 108.5L498.1 116.3L498.4 101.9L498.7 95.4L499 106.7L499.3 99L499.7 96.7L500 96.3L500.3 96.7L500.6 96.7L500.9 97.2L501.2 89.4L501.6 100.4L501.9 91.3L502.2 88.7L502.5 96.3L502.8 89L503.2 86.5L503.5 82L503.8 91.7L504.1 78.4L504.4 86.5L504.8 84.5L505.1 84.8L505.4 80.4L505.7 75.9L506 81L506.3 88.7L506.7 79.3L507 74.6L507.3 74.1L507.6 80.7L507.9 75.9L508.3 72.1L508.6 70.4L508.9 75.9L509.2 70.9L509.5 66.4L509.8 67.7L510.2 60.5L510.5 70.9L510.8 67.3L511.1 69.1L511.4 65.4L511.8 60.9L512.1 64.6L512.4 62.8L512.7 60.2L513 57.5L513.4 66.9L513.7 58.6L514 56L514.3 58.7L514.6 55.7L514.9 51.8L515.3 57.7L515.6 54.1L515.9 52.1L516.2 57L516.5 54.7L516.9 55.9L517.2 49.5L517.5 50.1L517.8 52.3L518.1 50.6L518.4 52.9L518.8 54.3L519.1 54.3L519.4 50.1L519.7 51.4L520 50.2L520.4 53.5L520.7 50.6L521 46.5L521.3 51.2L521.6 50.9L521.9 50.5L522.3 48.3L522.6 46.8L522.9 53.5L523.2 50.4L523.5 51.8L523.9 52.1L524.2 53.5L524.5 51.8L524.8 48.3L525.1 50.6L525.5 49.4L525.8 51.2L526.1 54.3L526.4 50.8L526.7 55.4L527 50.2L527.4 51.7L527.7 57L528 60L528.3 54.1L528.6 58L529 59.8L529.3 55.4L529.6 56.5L529.9 60.7L530.2 60.9L530.5 64.8L530.9 64.8L531.2 61.5L531.5 62.8L531.8 69.1L532.1 70.7L532.5 71.6L532.8 71.9L533.1 65.8L533.4 66.9L533.7 72.1L534.1 77L534.4 71.1L534.7 72.1L535 75.9L535.3 74.3L535.6 78.4L536 75.7L536.3 76.2L536.6 80.1L536.9 85.5L537.2 81L537.6 81L537.9 87.9L538.2 92.1L538.5 92.5L538.8 87.2L539.1 91.7L539.5 92.9L539.8 92.5L540.1 92.5L540.4 92.1L540.7 97.6L541.1 99.5L541.4 95.8L541.7 101.4L542 99L542.3 100.9L542.6 100.9L543 106.2L543.3 114.2L543.6 107.9L543.9 109.7L544.2 108.5L544.6 105.1L544.9 114.2L545.2 128.8L545.5 117L545.8 112.8L546.2 120L546.5 117.7L546.8 125L547.1 122.5L547.4 125.9L547.7 125.9L548.1 126.9L548.4 121.6L548.7 122.5L549 128.8L549.3 143.9L549.7 139.9L550 148.4L550.3 132.8L550.6 145.3L550.9 148.4L551.2 168.2L551.6 143.9L551.9 145.3M552 143.9L552.2 159.1L552.4 148.4L552.5 145.3L552.7 148.4L552.9 157.1L553.1 143.9L553.3 151.6L553.5 159.1L553.6 161.2L553.8 161.2L554 173.6L554.2 161.2L554.4 168.2L554.5 165.7L554.7 179.9L554.9 163.4L555.1 163.4L555.3 155.2L555.5 170.8L555.6 168.2L555.8 170.8L556 150L556.2 159.1L556.4 161.2L556.5 165.7L556.7 165.7L556.9 170.8L557.1 170.8L557.3 163.4L557.5 163.4L557.6 196.5L557.8 179.9L558 179.9L558.2 165.7L558.4 161.2L558.5 168.2L558.7 163.4L558.9 170.8L559.1 168.2L559.3 196.5L559.5 163.4L559.6 165.7L559.8 176.7L560 191.7L560.2 183.5L560.4 173.6L560.5 183.5L560.7 179.9L560.9 183.5L561.1 176.7L561.3 179.9L561.5 159.1L561.6 191.7L561.8 187.4L562 187.4L562.2 191.7L562.4 187.4L562.5 183.5L562.7 196.5L562.9 183.5L563.1 196.5L563.3 196.5L563.5 173.6L563.6 191.7L563.8 173.6L564 176.7L564.2 191.7L564.4 183.5L564.5 224.8L564.7 191.7L564.9 224.8L565.1 224.8L565.3 187.4L565.5 176.7L565.6 183.5L565.8 202L566 173.6L566.2 179.9L566.4 187.4L566.5 187.4L566.7 215.7L566.9 187.4L567.1 202L567.3 187.4L567.5 179.9L567.6 165.7L567.8 183.5L568 183.5L568.2 191.7L568.4 187.4L568.5 202L568.7 191.7L568.9 208.3L569.1 202L569.3 191.7L569.5 183.5L569.6 187.4L569.8 179.9L570 187.4L570.2 215.7L570.4 187.4L570.5 202L570.7 196.5L570.9 224.8L571.1 196.5L571.3 224.8L571.5 191.7L571.6 196.5L571.8 179.9L572 183.5L572.2 215.7L572.4 173.6L572.5 202L572.7 196.5L572.9 187.4L573.1 179.9L573.3 187.4L573.5 215.7L573.6 170.8L573.8 202L574 196.5L574.2 191.7L574.4 215.7L574.5 196.5L574.7 187.4L574.9 196.5L575.1 187.4L575.3 187.4L575.5 176.7L575.6 208.3L575.8 215.7L576 208.3L576.2 215.7L576.4 187.4L576.5 215.7L576.7 173.6L576.9 196.5L577.1 224.8L577.3 196.5L577.5 224.8L577.6 196.5L577.8 191.7L578 176.7L578.2 208.3L578.4 187.4L578.5 208.3L578.7 202L578.9 191.7L579.1 187.4L579.3 196.5L579.5 202L579.6 208.3L579.8 224.8L580 187.4L580.2 208.3L580.4 196.5L580.5 236.6L580.7 187.4L580.9 202L581.1 191.7L581.3 215.7L581.5 196.5L581.6 202L581.8 224.8L582 215.7L582.2 196.5L582.4 202L582.5 215.7L582.7 196.5L582.9 208.3L583.1 202L583.3 224.8L583.5 224.8L583.6 236.6L583.8 202L584 208.3L584.2 236.6L584.4 196.5L584.5 202L584.7 202L584.9 224.8L585.1 208.3L585.3 224.8L585.5 215.7L585.6 224.8L585.8 202L586 191.7L586.2 208.3L586.4 202L586.5 187.4L586.7 187.4L586.9 208.3L587.1 215.7L587.3 196.5L587.5 208.3L587.6 191.7L587.8 224.8L588 208.3L588.2 202L588.4 208.3L588.5 183.5L588.7 191.7L588.9 187.4L589.1 176.7L589.3 253.2L589.5 191.7L589.6 202L589.8 253.2L590 215.7L590.2 187.4L590.4 215.7L590.5 191.7L590.7 236.6L590.9 224.8L591.1 202L591.3 236.6L591.5 208.3L591.6 215.7L591.8 215.7L592 202L592.2 215.7L592.4 215.7L592.5 183.5L592.7 208.3L592.9 196.5L593.1 224.8L593.3 236.6L593.5 236.6L593.6 215.7L593.8 196.5L594 196.5L594.2 202L594.4 281.5L594.5 215.7L594.7 224.8L594.9 202L595.1 224.8L595.3 236.6L595.5 236.6L595.6 215.7L595.8 208.3L596 236.6L596.2 236.6L596.4 253.2L596.5 224.8L596.7 208.3L596.9 215.7L597.1 236.6L597.3 224.8L597.5 224.8L597.6 281.5L597.8 215.7L598 196.5L598.2 202L598.4 224.8L598.5 208.3L598.7 224.8L598.9 208.3L599.1 236.6L599.3 236.6L599.5 208.3L599.6 281.5L599.8 236.6L600 187.4L600.2 236.6L600.4 224.8L600.5 215.7L600.7 236.6L600.9 224.8L601.1 202L601.3 196.5L601.5 281.5L601.6 215.7L601.8 208.3L602 215.7L602.2 253.2L602.4 253.2L602.5 236.6L602.7 224.8L602.9 224.8L603.1 236.6L603.3 236.6L603.5 208.3L603.6 208.3L603.8 202L604 202L604.2 215.7L604.4 236.6L604.5 224.8L604.7 281.5L604.9 224.8L605.1 215.7L605.3 236.6L605.5 202L605.6 281.5L605.8 196.5L606 236.6L606.2 281.5L606.4 224.8L606.5 208.3L606.7 215.7L606.9 215.7L607.1 202L607.3 196.5L607.5 281.5L607.6 281.5L607.8 253.2L608 236.6L608.2 202L608.4 281.5L608.5 208.3L608.7 253.2M609.1 236.6L609.3 215.7L609.5 202L609.6 236.6L609.8 215.7L610 236.6L610.2 208.3L610.4 208.3L610.5 236.6L610.7 236.6L610.9 236.6L611.1 208.3L611.3 236.6L611.5 224.8L611.6 208.3L611.8 253.2L612 253.2L612.2 215.7L612.4 215.7L612.5 236.6L612.7 236.6L612.9 236.6L613.1 253.2L613.3 224.8L613.5 253.2L613.6 224.8L613.8 253.2L614 236.6L614.2 253.2L614.4 208.3L614.5 281.5L614.7 236.6L614.9 236.6L615.1 202L615.3 236.6L615.5 253.2L615.6 224.8L615.8 224.8L616 236.6M616.4 253.2L616.5 202L616.7 236.6L616.9 208.3L617.1 215.7L617.3 202L617.5 208.3L617.6 236.6L617.8 236.6L618 236.6L618.2 208.3L618.4 224.8L618.5 236.6L618.7 224.8L618.9 253.2L619.1 215.7L619.3 281.5L619.5 208.3L619.6 281.5L619.8 253.2L620 224.8L620.2 253.2L620.4 253.2L620.5 253.2L620.7 236.6L620.9 253.2L621.1 236.6L621.3 236.6L621.5 236.6M621.8 224.8L622 215.7L622.2 281.5L622.4 253.2L622.5 253.2L622.7 208.3L622.9 236.6L623.1 224.8L623.3 224.8L623.5 236.6L623.6 236.6L623.8 281.5L624 236.6L624.2 236.6L624.4 253.2L624.5 224.8L624.7 236.6L624.9 281.5L625.1 224.8L625.3 224.8L625.5 281.5L625.6 253.2L625.8 215.7L626 253.2L626.2 253.2L626.4 281.5L626.5 236.6L626.7 253.2L626.9 281.5L627.1 215.7L627.3 224.8M627.6 253.2L627.8 208.3L628 236.6L628.2 281.5L628.4 236.6M628.7 253.2L628.9 208.3L629.1 208.3L629.3 281.5L629.5 224.8L629.6 215.7L629.8 253.2L630 253.2L630.2 253.2L630.4 236.6L630.5 215.7L630.7 224.8L630.9 281.5L631.1 253.2L631.3 281.5L631.5 224.8L631.6 208.3L631.8 236.6L632 281.5L632.2 224.8L632.4 253.2L632.5 281.5L632.7 224.8L632.9 253.2L633.1 224.8L633.3 215.7L633.5 236.6L633.6 253.2L633.8 281.5L634 236.6L634.2 236.6M634.5 253.2L634.7 215.7L634.9 281.5L635.1 281.5L635.3 236.6L635.5 253.2L635.6 281.5L635.8 253.2L636 253.2L636.2 215.7L636.4 236.6L636.5 215.7L636.7 236.6L636.9 281.5L637.1 253.2L637.3 253.2L637.5 253.2L637.6 224.8L637.8 224.8L638 208.3L638.2 215.7L638.4 236.6L638.5 281.5L638.7 208.3L638.9 236.6L639.1 236.6L639.3 224.8L639.5 281.5L639.6 281.5L639.8 281.5L640 253.2L640.2 253.2L640.4 236.6L640.5 236.6L640.7 236.6L640.9 281.5L641.1 253.2L641.3 253.2L641.5 281.5L641.6 253.2L641.8 253.2M642.2 253.2L642.4 224.8L642.5 253.2L642.7 236.6L642.9 281.5M643.3 281.5L643.5 236.6L643.6 236.6M644.2 281.5L644.4 253.2L644.5 236.6L644.7 253.2L644.9 253.2L645.1 236.6L645.3 215.7L645.5 224.8L645.6 236.6L645.8 253.2L646 253.2L646.2 253.2L646.4 253.2L646.5 224.8L646.7 281.5M647.1 281.5M647.5 281.5L647.6 236.6L647.8 281.5L648 236.6L648.2 281.5L648.4 253.2L648.5 224.8L648.7 236.6L648.9 281.5L649.1 236.6L649.3 236.6L649.5 236.6M649.8 253.2L650 253.2L650.2 236.6L650.4 253.2L650.5 236.6L650.7 253.2L650.9 236.6L651.1 224.8L651.3 236.6L651.5 253.2L651.6 281.5L651.8 281.5L652 281.5L652.2 236.6L652.4 281.5L652.5 224.8M652.9 253.2M653.3 208.3L653.5 281.5L653.6 253.2L653.8 215.7L654 281.5L654.2 236.6L654.4 253.2L654.5 253.2L654.7 253.2L654.9 236.6L655.1 236.6L655.3 281.5L655.5 281.5M655.8 253.2M656.4 253.2L656.5 253.2L656.7 281.5L656.9 253.2L657.1 281.5L657.3 253.2L657.5 281.5L657.6 236.6L657.8 208.3L658 224.8L658.2 236.6M658.5 281.5L658.7 253.2L658.9 253.2L659.1 281.5L659.3 253.2L659.5 281.5L659.6 281.5L659.8 253.2L660 253.2M660.4 253.2L660.5 215.7L660.7 281.5L660.9 253.2L661.1 215.7L661.3 253.2M661.6 281.5L661.8 253.2L662 281.5L662.2 281.5L662.4 253.2M662.7 281.5L662.9 281.5L663.1 281.5M663.5 236.6L663.6 224.8L663.8 224.8L664 236.6L664.2 281.5L664.4 253.2L664.5 253.2L664.7 253.2L664.9 236.6L665.1 253.2M665.5 281.5L665.6 253.2L665.8 281.5L666 281.5L666.2 281.5M666.5 253.2L666.7 236.6L666.9 253.2L667.1 253.2L667.3 253.2M667.6 281.5L667.8 236.6L668 281.5L668.2 253.2L668.4 253.2L668.5 215.7L668.7 281.5L668.9 281.5L669.1 236.6L669.3 281.5L669.5 253.2L669.6 224.8M670 281.5L670.2 253.2L670.4 236.6L670.5 281.5L670.7 281.5L670.9 253.2L671.1 281.5M671.5 236.6L671.6 281.5L671.8 253.2L672 281.5L672.2 253.2L672.4 253.2L672.5 281.5M672.9 253.2L673.1 281.5L673.3 224.8L673.5 215.7M673.8 236.6L674 253.2M674.4 236.6L674.5 281.5M675.1 253.2L675.3 253.2M675.6 224.8L675.8 281.5L676 281.5L676.2 281.5L676.4 253.2L676.5 281.5M676.9 253.2L677.1 215.7L677.3 281.5L677.5 281.5L677.6 281.5L677.8 281.5L678 281.5L678.2 281.5L678.4 281.5L678.5 281.5L678.7 253.2L678.9 236.6M679.3 253.2L679.5 281.5"/>
<polyline fill="none" stroke="#d41414" stroke-width="1.4" stroke-linejoin="round" points="475.7,130.6 476.2,130.7 476.7,130.9 477.2,131 477.7,131.2 478.2,131.3 478.7,131.4 479.2,131.5 479.7,131.4 480.2,131.4 480.7,131.3 481.2,131.1 481.7,130.9 482.2,130.6 482.7,130.3 483.2,129.9 483.7,129.5 484.2,129 484.7,128.5 485.2,128 485.7,127.4 486.2,126.8 486.7,126.1 487.2,125.5 487.7,124.8 488.2,124.1 488.7,123.4 489.2,122.6 489.7,121.9 490.2,121.1 490.7,120.3 491.2,119.4 491.7,118.4 492.2,117.4 492.7,116.3 493.2,115.2 493.7,114 494.2,112.8 494.7,111.6 495.2,110.4 495.7,109.1 496.2,107.8 496.7,106.5 497.2,105.2 497.7,103.8 498.2,102.3 498.7,100.8 499.2,99.3 499.7,97.8 500.2,96.2 500.7,94.7 501.2,93.1 501.7,91.5 502.2,89.9 502.7,88.4 503.2,86.8 503.7,85.2 504.2,83.6 504.7,82.1 505.2,80.5 505.7,78.9 506.2,77.3 506.7,75.7 507.2,74.1 507.7,72.6 508.2,71.1 508.7,69.7 509.2,68.2 509.7,66.8 510.2,65.5 510.7,64.1 511.2,62.9 511.7,61.7 512.2,60.6 512.7,59.5 513.2,58.5 513.7,57.5 514.2,56.6 514.7,55.7 515.2,54.9 515.7,54.2 516.2,53.5 516.7,52.9 517.2,52.3 517.7,51.8 518.2,51.4 518.7,51 519.2,50.7 519.7,50.5 520.2,50.2 520.7,50.1 521.2,49.9 521.7,49.9 522.2,49.9 522.7,50 523.2,50.2 523.7,50.4 524.2,50.7 524.7,51 525.2,51.4 525.7,51.9 526.2,52.4 526.7,53 527.2,53.7 527.7,54.5 528.2,55.4 528.7,56.3 529.2,57.3 529.7,58.4 530.2,59.6 530.7,60.8 531.2,62.1 531.7,63.4 532.2,64.8 532.7,66.3 533.2,67.7 533.7,69.2 534.2,70.6 534.7,72.1 535.2,73.6 535.7,75 536.2,76.5 536.7,78.1 537.2,79.7 537.7,81.5 538.2,83.3 538.7,85.3 539.2,87.3 539.7,89.4 540.2,91.4 540.7,93.5 541.2,95.6 541.7,97.6 542.2,99.7 542.7,101.8 543.2,103.9 543.7,106.1 544.2,108.3 544.7,110.4 545.2,112.7 545.7,115 546.2,117.3 546.7,119.7 547.2,122.1 547.7,124.6 548.2,127.2 548.7,129.7 549.2,132.4 549.7,135 550.2,137.7 550.7,140.3 551.2,143 551.7,145.6 552.2,148.1 552.7,150.6 553.2,153 553.7,155.4 554.2,157.7 554.7,160 555.2,162.2 555.7,164.3 556.2,166.4 556.7,168.4 557.2,170.3 557.7,172.1 558.2,173.9 558.7,175.6 559.2,177.3 559.7,178.9 560.2,180.5 560.7,182 561.2,183.4 561.7,184.8 562.2,186.1 562.7,187.3 563.2,188.5 563.7,189.7 564.2,190.8 564.7,191.9 565.2,192.9 565.7,193.9 566.2,194.9 566.7,195.7 567.2,196.5 567.7,197.2 568.2,197.7"/>
<polyline fill="none" stroke="#f59030" stroke-width="1.25" stroke-linejoin="round" points="476.5,130.8 477,131 477.5,131.3 478,131.6 478.5,131.9 479,132.3 479.5,132.6 480,133 480.5,133.3 481,133.7 481.5,134 482,134.4 482.5,134.7 483,135.1 483.5,135.4 484,135.8 484.5,136.1 485,136.5 485.5,136.8 486,137.1 486.5,137.5 487,137.8 487.5,138.1 488,138.4 488.5,138.8 489,139.1 489.5,139.4 490,139.7 490.5,140.1 491,140.4 491.5,140.7 492,141 492.5,141.4 493,141.7 493.5,142 494,142.3 494.5,142.7 495,143 495.5,143.3 496,143.6 496.5,143.9 497,144.2 497.5,144.5 498,144.8 498.5,145.1 499,145.4 499.5,145.7 500,146 500.5,146.3 501,146.6 501.5,146.9 502,147.2 502.5,147.5 503,147.8 503.5,148.1 504,148.4 504.5,148.7 505,149 505.5,149.3 506,149.6 506.5,149.9 507,150.1 507.5,150.4 508,150.7 508.5,151 509,151.3 509.5,151.6 510,151.9 510.5,152.2 511,152.5 511.5,152.7 512,153 512.5,153.3 513,153.7 513.5,154 514,154.3 514.5,154.7 515,155 515.5,155.4 516,155.7 516.5,156.1 517,156.5 517.5,156.8 518,157.2 518.5,157.5 519,157.9 519.5,158.3 520,158.6 520.5,159 521,159.4 521.5,159.8 522,160.2 522.5,160.6 523,161 523.5,161.4 524,161.8 524.5,162.2 525,162.6 525.5,162.9 526,163.3 526.5,163.7 527,164.1 527.5,164.5 528,164.9 528.5,165.3 529,165.7 529.5,166.1 530,166.6 530.5,167 531,167.5 531.5,167.9 532,168.4 532.5,168.8 533,169.3 533.5,169.8 534,170.2 534.5,170.7 535,171.2 535.5,171.6 536,172.1 536.5,172.6 537,173.1 537.5,173.5 538,174 538.5,174.5 539,174.9 539.5,175.4 540,175.9 540.5,176.3 541,176.8 541.5,177.2 542,177.7 542.5,178.2 543,178.6 543.5,179.1 544,179.6 544.5,180 545,180.5 545.5,180.9 546,181.4 546.5,181.8 547,182.3 547.5,182.7 548,183.2 548.5,183.6 549,184 549.5,184.3 550,184.6"/>
<polyline fill="none" stroke="#101010" stroke-width="1.1" stroke-linejoin="round" points="476,131.2 476.5,131.3 477,131.5 477.5,131.6 478,131.8 478.5,131.9 479,132 479.5,132.1 480,132 480.5,132 481,131.9 481.5,131.7 482,131.5 482.5,131.2 483,130.9 483.5,130.5 484,130.1 484.5,129.6 485,129.1 485.5,128.6 486,128 486.5,127.4 487,126.7 487.5,126.1 488,125.4 488.5,124.7 489,124 489.5,123.2 490,122.5 490.5,121.7 491,120.9 491.5,120 492,119 492.5,118 493,116.9 493.5,115.8 494,114.6 494.5,113.4 495,112.2 495.5,111 496,109.7 496.5,108.4 497,107.1 497.5,105.8 498,104.4 498.5,102.9 499,101.4 499.5,99.9 500,98.4 500.5,96.8 501,95.3 501.5,93.7 502,92.1 502.5,90.5 503,89 503.5,87.4 504,85.8 504.5,84.2 505,82.7 505.5,81.1 506,79.5 506.5,77.9 507,76.3 507.5,74.7 508,73.2 508.5,71.7 509,70.3 509.5,68.8 510,67.4 510.5,66.1 511,64.7 511.5,63.5 512,62.3 512.5,61.2 513,60.1 513.5,59.1 514,58.1 514.5,57.2 515,56.3 515.5,55.5 516,54.8 516.5,54.1 517,53.4 517.5,52.9 518,52.4 518.5,51.9 519,51.5 519.5,51.2 520,50.9 520.5,50.7 521,50.6 521.5,50.5 522,50.5 522.5,50.6 523,50.8 523.5,51 524,51.3 524.5,51.7 525,52.1 525.5,52.6 526,53.1 526.5,53.8 527,54.5 527.5,55.3 528,56.1 528.5,57.1 529,58.1 529.5,59.2 530,60.4 530.5,61.6 531,63 531.5,64.3 532,65.7 532.5,67.2 533,68.6 533.5,70.1 534,71.5 534.5,73 535,74.5 535.5,75.9 536,77.4 536.5,79 537,80.7 537.5,82.4 538,84.3 538.5,86.3 539,88.3 539.5,90.4 540,92.4 540.5,94.5 541,96.6 541.5,98.6 542,100.7 542.5,102.9 543,105 543.5,107.1 544,109.3 544.5,111.5 545,113.7 545.5,116 546,118.4 546.5,120.8 547,123.2 547.5,125.7 548,128.3 548.5,130.9 549,133.5 549.5,136.1 550,138.8 550.5,141.4 551,144.1 551.5,146.7 552,149.2 552.5,151.7 553,154.1 553.5,156.5 554,158.8 554.5,161 555,163.2 555.5,165.3 556,167.4 556.5,169.4 557,171.3 557.5,173.1 558,174.9 558.5,176.6 559,178.2 559.5,179.8 560,181.4 560.5,182.9 561,184.3 561.5,185.7 562,187 562.5,188.2 563,189.4 563.5,190.5 564,191.6 564.5,192.7 565,193.8 565.5,194.7 566,195.7 566.5,196.6 567,197.5 567.5,198.3 568,199.1 568.5,199.9 569,200.7 569.5,201.4 570,202.1 570.5,202.9 571,203.6 571.5,204.3 572,205 572.5,205.7 573,206.4 573.5,207.1 574,207.7 574.5,208.4 575,209.1 575.5,209.7 576,210.3 576.5,210.8 577,211.3 577.5,211.8 578,212.2 578.5,212.7 579,213.1 579.5,213.5 580,214 580.5,214.4 581,214.8 581.5,215.2 582,215.6 582.5,216 583,216.4 583.5,216.8 584,217.2 584.5,217.6 585,218 585.5,218.4 586,218.8 586.5,219.2 587,219.6 587.5,220 588,220.4 588.5,220.8 589,221.2 589.5,221.5 590,221.9 590.5,222.2 591,222.5 591.5,222.8 592,223.1 592.5,223.4 593,223.6 593.5,223.9 594,224.2 594.5,224.5 595,224.8 595.5,225 596,225.3 596.5,225.6 597,225.8 597.5,226.1 598,226.4 598.5,226.7 599,226.9 599.5,227.2 600,227.4 600.5,227.6 601,227.7 601.5,227.9 602,228 602.5,228.2 603,228.3 603.5,228.5 604,228.6 604.5,228.7 605,228.9 605.5,229 606,229.1 606.5,229.1 607,229.1 607.5,229.1 608,229.1 608.5,229.1 609,229 609.5,229 610,228.9 610.5,228.9 611,228.8 611.5,228.8 612,228.7 612.5,228.6 613,228.5 613.5,228.4 614,228.3 614.5,228.2 615,228 615.5,227.9 616,227.7 616.5,227.6 617,227.5 617.5,227.3 618,227.2 618.5,227 619,226.9 619.5,226.7 620,226.6 620.5,226.5 621,226.4"/>
<polyline fill="none" stroke="#2020cc" stroke-width="1.25" stroke-linejoin="round" points="476.9,130.8 477.4,131 477.9,131.3 478.4,131.6 478.9,131.9 479.4,132.3 479.9,132.6 480.4,133 480.9,133.3 481.4,133.7 481.9,134 482.4,134.3 482.9,134.6 483.4,134.9 483.9,135.2 484.4,135.4 484.9,135.7 485.4,135.9 485.9,136.2 486.4,136.4 486.9,136.6 487.4,136.9 487.9,137.1 488.4,137.3 488.9,137.5 489.4,137.7 489.9,137.8 490.4,138 490.9,138.1 491.4,138.3 491.9,138.4 492.4,138.5 492.9,138.7 493.4,138.8 493.9,138.9 494.4,139 494.9,139.1 495.4,139.1 495.9,139.2 496.4,139.3 496.9,139.4 497.4,139.4 497.9,139.5 498.4,139.6 498.9,139.6 499.4,139.7 499.9,139.8 500.4,139.9 500.9,139.9 501.4,140 501.9,140.1 502.4,140.1 502.9,140.2 503.4,140.3 503.9,140.3 504.4,140.4 504.9,140.5 505.4,140.6 505.9,140.7 506.4,140.8 506.9,140.9 507.4,141 507.9,141.2 508.4,141.3 508.9,141.5 509.4,141.7 509.9,141.9 510.4,142.2 510.9,142.4 511.4,142.7 511.9,143 512.4,143.4 512.9,143.8 513.4,144.1 513.9,144.6 514.4,145 514.9,145.4 515.4,145.9 515.9,146.3 516.4,146.8 516.9,147.4 517.4,147.9 517.9,148.5 518.4,149 518.9,149.6 519.4,150.2 519.9,150.8 520.4,151.4 520.9,151.9 521.4,152.5 521.9,153 522.4,153.6 522.9,154.1 523.4,154.7 523.9,155.2 524.4,155.8 524.9,156.3 525.4,156.8 525.9,157.4 526.4,157.9 526.9,158.5 527.4,159 527.9,159.6 528.4,160.1 528.9,160.7 529.4,161.2 529.9,161.8 530.4,162.3 530.9,162.9 531.4,163.4 531.9,164 532.4,164.5 532.9,165.1 533.4,165.7 533.9,166.2 534.4,166.8 534.9,167.3 535.4,167.9 535.9,168.5 536.4,169.1 536.9,169.7 537.4,170.3 537.9,170.9 538.4,171.5 538.9,172.1 539.4,172.7 539.9,173.3 540.4,173.9 540.9,174.5 541.4,175 541.9,175.6 542.4,176.1 542.9,176.7 543.4,177.2 543.9,177.8 544.4,178.4 544.9,178.9 545.4,179.5 545.9,180 546.4,180.6 546.9,181.2 547.4,181.8 547.9,182.4 548.4,182.9 548.9,183.5 549.4,184.1 549.9,184.7 550.4,185.3 550.9,185.8 551.4,186.3 551.9,186.9 552.4,187.4 552.9,187.9 553.4,188.4 553.9,188.9 554.4,189.4 554.9,189.9 555.4,190.4 555.9,190.8 556.4,191.3 556.9,191.7 557.4,192.2 557.9,192.6 558.4,193 558.9,193.4 559.4,193.8 559.9,194.3 560.4,194.7 560.9,195.2 561.4,195.6 561.9,196.1 562.4,196.6 562.9,197.2 563.4,197.7 563.9,198.3 564.4,198.8 564.9,199.4 565.4,199.9 565.9,200.5 566.4,201 566.9,201.6 567.4,202.1 567.9,202.7 568.4,203.2 568.9,203.8 569.4,204.3 569.9,204.8 570.4,205.3 570.9,205.8 571.4,206.2 571.9,206.7 572.4,207.1 572.9,207.6 573.4,208 573.9,208.5 574.4,208.9 574.9,209.3 575.4,209.8 575.9,210.2 576.4,210.7 576.9,211.1 577.4,211.6 577.9,212 578.4,212.4 578.9,212.9 579.4,213.3 579.9,213.7 580.4,214.1 580.9,214.6 581.4,215 581.9,215.4 582.4,215.8 582.9,216.2 583.4,216.6 583.9,217 584.4,217.4 584.9,217.8 585.4,218.2 585.9,218.6 586.4,219.1 586.9,219.5 587.4,219.9 587.9,220.3 588.4,220.7 588.9,221.1 589.4,221.4 589.9,221.8 590.4,222.1 590.9,222.5 591.4,222.8 591.9,223 592.4,223.3 592.9,223.6 593.4,223.9 593.9,224.1 594.4,224.4 594.9,224.7 595.4,225 595.9,225.2 596.4,225.5 596.9,225.8 597.4,226.1 597.9,226.3 598.4,226.6 598.9,226.9 599.4,227.1 599.9,227.3 600.4,227.5 600.9,227.7 601.4,227.9 601.9,228 602.4,228.2 602.9,228.3 603.4,228.4 603.9,228.6 604.4,228.7 604.9,228.8 605.4,229 605.9,229 606.4,229.1 606.9,229.1 607.4,229.1 607.9,229.1 608.4,229.1 608.9,229 609.4,229 609.9,228.9 610.4,228.9 610.9,228.8 611.4,228.8 611.9,228.7 612.4,228.6 612.9,228.5 613.4,228.4 613.9,228.3 614.4,228.2 614.9,228 615.4,227.9 615.9,227.8 616.4,227.6 616.9,227.5 617.4,227.3 617.9,227.2 618.4,227 618.9,226.9 619.4,226.8 619.9,226.7 620.4,226.5 620.9,226.5"/>
</g>
<path d="M66.85 15.75H338.4V234.5" fill="none" stroke="#6a6a6a" stroke-width="1.15"/>
<path d="M66.85 15.1V234.5H338.9" fill="none" stroke="#222" stroke-width="1.4"/>
<line x1="66.80" y1="234.7" x2="66.80" y2="227.70" stroke="#333" stroke-width="1"/>
<line x1="89.42" y1="234.7" x2="89.42" y2="231.10" stroke="#333" stroke-width="1"/>
<line x1="112.05" y1="234.7" x2="112.05" y2="231.10" stroke="#333" stroke-width="1"/>
<line x1="134.68" y1="234.7" x2="134.68" y2="231.10" stroke="#333" stroke-width="1"/>
<line x1="157.30" y1="234.7" x2="157.30" y2="231.10" stroke="#333" stroke-width="1"/>
<line x1="179.93" y1="234.7" x2="179.93" y2="231.10" stroke="#333" stroke-width="1"/>
<line x1="202.55" y1="234.7" x2="202.55" y2="227.70" stroke="#333" stroke-width="1"/>
<line x1="225.18" y1="234.7" x2="225.18" y2="231.10" stroke="#333" stroke-width="1"/>
<line x1="247.80" y1="234.7" x2="247.80" y2="231.10" stroke="#333" stroke-width="1"/>
<line x1="270.43" y1="234.7" x2="270.43" y2="231.10" stroke="#333" stroke-width="1"/>
<line x1="293.05" y1="234.7" x2="293.05" y2="231.10" stroke="#333" stroke-width="1"/>
<line x1="315.68" y1="234.7" x2="315.68" y2="231.10" stroke="#333" stroke-width="1"/>
<line x1="338.30" y1="234.7" x2="338.30" y2="227.70" stroke="#333" stroke-width="1"/>
<line x1="66.8" y1="234.70" x2="70.8" y2="234.70" stroke="#333" stroke-width="1"/>
<line x1="66.8" y1="222.05" x2="69.2" y2="222.05" stroke="#333" stroke-width="0.8"/>
<line x1="66.8" y1="214.65" x2="69.2" y2="214.65" stroke="#333" stroke-width="0.8"/>
<line x1="66.8" y1="209.40" x2="69.2" y2="209.40" stroke="#333" stroke-width="0.8"/>
<line x1="66.8" y1="205.32" x2="69.2" y2="205.32" stroke="#333" stroke-width="0.8"/>
<line x1="66.8" y1="201.99" x2="69.2" y2="201.99" stroke="#333" stroke-width="0.8"/>
<line x1="66.8" y1="199.18" x2="69.2" y2="199.18" stroke="#333" stroke-width="0.8"/>
<line x1="66.8" y1="196.74" x2="69.2" y2="196.74" stroke="#333" stroke-width="0.8"/>
<line x1="66.8" y1="194.59" x2="69.2" y2="194.59" stroke="#333" stroke-width="0.8"/>
<line x1="66.8" y1="192.67" x2="70.8" y2="192.67" stroke="#333" stroke-width="1"/>
<line x1="66.8" y1="180.02" x2="69.2" y2="180.02" stroke="#333" stroke-width="0.8"/>
<line x1="66.8" y1="172.62" x2="69.2" y2="172.62" stroke="#333" stroke-width="0.8"/>
<line x1="66.8" y1="167.37" x2="69.2" y2="167.37" stroke="#333" stroke-width="0.8"/>
<line x1="66.8" y1="163.29" x2="69.2" y2="163.29" stroke="#333" stroke-width="0.8"/>
<line x1="66.8" y1="159.96" x2="69.2" y2="159.96" stroke="#333" stroke-width="0.8"/>
<line x1="66.8" y1="157.15" x2="69.2" y2="157.15" stroke="#333" stroke-width="0.8"/>
<line x1="66.8" y1="154.71" x2="69.2" y2="154.71" stroke="#333" stroke-width="0.8"/>
<line x1="66.8" y1="152.56" x2="69.2" y2="152.56" stroke="#333" stroke-width="0.8"/>
<line x1="66.8" y1="150.64" x2="70.8" y2="150.64" stroke="#333" stroke-width="1"/>
<line x1="66.8" y1="137.99" x2="69.2" y2="137.99" stroke="#333" stroke-width="0.8"/>
<line x1="66.8" y1="130.59" x2="69.2" y2="130.59" stroke="#333" stroke-width="0.8"/>
<line x1="66.8" y1="125.34" x2="69.2" y2="125.34" stroke="#333" stroke-width="0.8"/>
<line x1="66.8" y1="121.26" x2="69.2" y2="121.26" stroke="#333" stroke-width="0.8"/>
<line x1="66.8" y1="117.93" x2="69.2" y2="117.93" stroke="#333" stroke-width="0.8"/>
<line x1="66.8" y1="115.12" x2="69.2" y2="115.12" stroke="#333" stroke-width="0.8"/>
<line x1="66.8" y1="112.68" x2="69.2" y2="112.68" stroke="#333" stroke-width="0.8"/>
<line x1="66.8" y1="110.53" x2="69.2" y2="110.53" stroke="#333" stroke-width="0.8"/>
<line x1="66.8" y1="108.61" x2="70.8" y2="108.61" stroke="#333" stroke-width="1"/>
<line x1="66.8" y1="95.96" x2="69.2" y2="95.96" stroke="#333" stroke-width="0.8"/>
<line x1="66.8" y1="88.56" x2="69.2" y2="88.56" stroke="#333" stroke-width="0.8"/>
<line x1="66.8" y1="83.31" x2="69.2" y2="83.31" stroke="#333" stroke-width="0.8"/>
<line x1="66.8" y1="79.23" x2="69.2" y2="79.23" stroke="#333" stroke-width="0.8"/>
<line x1="66.8" y1="75.90" x2="69.2" y2="75.90" stroke="#333" stroke-width="0.8"/>
<line x1="66.8" y1="73.09" x2="69.2" y2="73.09" stroke="#333" stroke-width="0.8"/>
<line x1="66.8" y1="70.65" x2="69.2" y2="70.65" stroke="#333" stroke-width="0.8"/>
<line x1="66.8" y1="68.50" x2="69.2" y2="68.50" stroke="#333" stroke-width="0.8"/>
<line x1="66.8" y1="66.58" x2="70.8" y2="66.58" stroke="#333" stroke-width="1"/>
<line x1="66.8" y1="53.93" x2="69.2" y2="53.93" stroke="#333" stroke-width="0.8"/>
<line x1="66.8" y1="46.53" x2="69.2" y2="46.53" stroke="#333" stroke-width="0.8"/>
<line x1="66.8" y1="41.28" x2="69.2" y2="41.28" stroke="#333" stroke-width="0.8"/>
<line x1="66.8" y1="37.20" x2="69.2" y2="37.20" stroke="#333" stroke-width="0.8"/>
<line x1="66.8" y1="33.87" x2="69.2" y2="33.87" stroke="#333" stroke-width="0.8"/>
<line x1="66.8" y1="31.06" x2="69.2" y2="31.06" stroke="#333" stroke-width="0.8"/>
<line x1="66.8" y1="28.62" x2="69.2" y2="28.62" stroke="#333" stroke-width="0.8"/>
<line x1="66.8" y1="26.47" x2="69.2" y2="26.47" stroke="#333" stroke-width="0.8"/>
<line x1="66.8" y1="24.55" x2="70.8" y2="24.55" stroke="#333" stroke-width="1"/>
<rect x="407.6" y="15.6" width="272.8" height="219.7" fill="none" stroke="#222" stroke-width="1.35"/>
<line x1="435.60" y1="235.3" x2="435.60" y2="231.30" stroke="#222" stroke-width="1"/>
<line x1="467.45" y1="235.3" x2="467.45" y2="233.30" stroke="#222" stroke-width="1"/>
<line x1="499.30" y1="235.3" x2="499.30" y2="231.30" stroke="#222" stroke-width="1"/>
<line x1="531.15" y1="235.3" x2="531.15" y2="233.30" stroke="#222" stroke-width="1"/>
<line x1="563.00" y1="235.3" x2="563.00" y2="231.30" stroke="#222" stroke-width="1"/>
<line x1="594.85" y1="235.3" x2="594.85" y2="233.30" stroke="#222" stroke-width="1"/>
<line x1="626.70" y1="235.3" x2="626.70" y2="231.30" stroke="#222" stroke-width="1"/>
<line x1="658.55" y1="235.3" x2="658.55" y2="233.30" stroke="#222" stroke-width="1"/>
<line x1="407.5" y1="224.85" x2="409.7" y2="224.85" stroke="#333" stroke-width="0.8"/>
<line x1="407.5" y1="215.73" x2="409.7" y2="215.73" stroke="#333" stroke-width="0.8"/>
<line x1="407.5" y1="208.28" x2="409.7" y2="208.28" stroke="#333" stroke-width="0.8"/>
<line x1="407.5" y1="201.98" x2="409.7" y2="201.98" stroke="#333" stroke-width="0.8"/>
<line x1="407.5" y1="196.52" x2="409.7" y2="196.52" stroke="#333" stroke-width="0.8"/>
<line x1="407.5" y1="191.71" x2="409.7" y2="191.71" stroke="#333" stroke-width="0.8"/>
<line x1="407.5" y1="187.40" x2="411.5" y2="187.40" stroke="#333" stroke-width="1"/>
<line x1="407.5" y1="159.07" x2="409.7" y2="159.07" stroke="#333" stroke-width="0.8"/>
<line x1="407.5" y1="142.50" x2="409.7" y2="142.50" stroke="#333" stroke-width="0.8"/>
<line x1="407.5" y1="130.75" x2="409.7" y2="130.75" stroke="#333" stroke-width="0.8"/>
<line x1="407.5" y1="121.63" x2="409.7" y2="121.63" stroke="#333" stroke-width="0.8"/>
<line x1="407.5" y1="114.18" x2="409.7" y2="114.18" stroke="#333" stroke-width="0.8"/>
<line x1="407.5" y1="107.88" x2="409.7" y2="107.88" stroke="#333" stroke-width="0.8"/>
<line x1="407.5" y1="102.42" x2="409.7" y2="102.42" stroke="#333" stroke-width="0.8"/>
<line x1="407.5" y1="97.61" x2="409.7" y2="97.61" stroke="#333" stroke-width="0.8"/>
<line x1="407.5" y1="93.30" x2="411.5" y2="93.30" stroke="#333" stroke-width="1"/>
<line x1="407.5" y1="64.97" x2="409.7" y2="64.97" stroke="#333" stroke-width="0.8"/>
<line x1="407.5" y1="48.40" x2="409.7" y2="48.40" stroke="#333" stroke-width="0.8"/>
<line x1="407.5" y1="36.65" x2="409.7" y2="36.65" stroke="#333" stroke-width="0.8"/>
<line x1="407.5" y1="27.53" x2="409.7" y2="27.53" stroke="#333" stroke-width="0.8"/>
<line x1="407.5" y1="20.08" x2="409.7" y2="20.08" stroke="#333" stroke-width="0.8"/>
<rect x="230.6" y="20.1" width="102.8" height="104.2" fill="#fff" stroke="#bbb" stroke-width="0.8"/>
<line x1="231.7" y1="26.8" x2="251.6" y2="26.8" stroke="#e8228c" stroke-width="1.2"/>
<line x1="231.7" y1="39.8" x2="251.6" y2="39.8" stroke="#e86a78" stroke-width="1.2"/>
<line x1="231.7" y1="52.8" x2="251.6" y2="52.8" stroke="#f09a50" stroke-width="1.2"/>
<line x1="231.7" y1="65.8" x2="251.6" y2="65.8" stroke="#eee880" stroke-width="1.2"/>
<line x1="231.7" y1="78.8" x2="251.6" y2="78.8" stroke="#3cc83c" stroke-width="1.2"/>
<line x1="231.7" y1="91.8" x2="251.6" y2="91.8" stroke="#9a9af0" stroke-width="1.2"/>
<line x1="231.7" y1="104.8" x2="251.6" y2="104.8" stroke="#7a2ae0" stroke-width="1.2"/>
<line x1="231.7" y1="117.8" x2="251.6" y2="117.8" stroke="#333" stroke-width="1.2"/>
<rect x="590.5" y="20.5" width="84.6" height="64.9" fill="#fff" stroke="#bbb" stroke-width="0.8"/>
<line x1="591.7" y1="27.2" x2="614.6" y2="27.2" stroke="#2ed82e" stroke-width="1.2"/>
<line x1="591.7" y1="40.0" x2="614.6" y2="40.0" stroke="#d03030" stroke-width="1.2"/>
<line x1="591.7" y1="52.9" x2="614.6" y2="52.9" stroke="#f0a050" stroke-width="1.2"/>
<line x1="591.7" y1="65.7" x2="614.6" y2="65.7" stroke="#222" stroke-width="1.2"/>
<line x1="591.7" y1="78.5" x2="614.6" y2="78.5" stroke="#2a2ae0" stroke-width="1.2"/>
<text y="18.8" font-size="21"><tspan x="0.6">(</tspan><tspan x="7.7">a</tspan><tspan x="19.2">)</tspan></text>
<text x="61.6" y="27.7" font-size="9.1" text-anchor="end" >100000</text>
<text x="61.6" y="69.7" font-size="9.1" text-anchor="end" >10000</text>
<text x="61.6" y="111.8" font-size="9.1" text-anchor="end" >1000</text>
<text x="61.6" y="153.8" font-size="9.1" text-anchor="end" >100</text>
<text x="61.6" y="195.8" font-size="9.1" text-anchor="end" >10</text>
<text x="61.6" y="237.8" font-size="9.1" text-anchor="end" >1</text>
<text x="68" y="250.9" font-size="9.1" text-anchor="middle" >0</text>
<text x="203.2" y="250.9" font-size="9.1" text-anchor="middle" >1000</text>
<text x="338.8" y="250.9" font-size="9.1" text-anchor="middle" >2000</text>
<text x="202.8" y="263.4" font-size="11.6" text-anchor="middle" >MCA channel</text>
<text transform="translate(26.9,124.8) rotate(-90)" font-size="11.5" text-anchor="middle">Counts</text>
<text x="254.2" y="30.5" font-size="10.4" text-anchor="start" ><tspan font-style="italic">g</tspan> = 1%</text>
<text x="254.2" y="43.5" font-size="10.4" text-anchor="start" ><tspan font-style="italic">g</tspan> = 9%</text>
<text x="254.2" y="56.5" font-size="10.4" text-anchor="start" ><tspan font-style="italic">g</tspan> = 15%</text>
<text x="254.2" y="69.5" font-size="10.4" text-anchor="start" ><tspan font-style="italic">g</tspan> = 23%</text>
<text x="254.2" y="82.5" font-size="10.4" text-anchor="start" ><tspan font-style="italic">g</tspan> = 31%</text>
<text x="254.2" y="95.5" font-size="10.4" text-anchor="start" ><tspan font-style="italic">g</tspan> = 37%</text>
<text x="254.2" y="108.5" font-size="10.4" text-anchor="start" ><tspan font-style="italic">g</tspan> = 45%</text>
<text x="254.2" y="121.5" font-size="10.4" text-anchor="start" >Cz-GAGG (STD)</text>
<text y="18.8" font-size="20.8"><tspan x="353.8">(</tspan><tspan x="361.4">b</tspan><tspan x="373.6">)</tspan></text>
<text x="402.9" y="96.4" font-size="9.1" text-anchor="end" >100</text>
<text x="403" y="190.8" font-size="9.1" text-anchor="end" >10</text>
<text x="435.6" y="247.2" font-size="9.1" text-anchor="middle" >800</text>
<text x="499.3" y="247.2" font-size="9.1" text-anchor="middle" >1000</text>
<text x="563" y="247.2" font-size="9.1" text-anchor="middle" >1200</text>
<text x="626.7" y="247.2" font-size="9.1" text-anchor="middle" >1400</text>
<text x="544.1" y="264.3" font-size="11.6" text-anchor="middle" >MCA channel</text>
<text transform="translate(383.0,124.8) rotate(-90)" font-size="11.5" text-anchor="middle">Counts</text>
<text x="618.2" y="30.9" font-size="10.3" text-anchor="start" ><tspan font-style="italic">g</tspan> = 31%</text>
<text x="618.2" y="43.7" font-size="10.3" text-anchor="start" >Fitting curve</text>
<text x="618.2" y="56.6" font-size="10.3" text-anchor="start" >Polynominal</text>
<text x="618.2" y="69.4" font-size="10.3" text-anchor="start" >Gaussian1</text>
<text x="618.2" y="82.2" font-size="10.3" text-anchor="start" >Gaussian2</text>
<text x="465.3" y="31" font-size="10.3" text-anchor="start" >YK&#945; escape peak</text>
<text x="574.4" y="123.6" font-size="10.2" text-anchor="start" >&#916;E/E= 8.8%@662keV</text>

<line x1="505.7" y1="34.3" x2="509.6" y2="47.5" stroke="#111" stroke-width="1.6"/>
<polygon points="510.4,51.5 507.3,45.3 511.7,44.2" fill="#111"/>
<line x1="570.6" y1="118.4" x2="549" y2="96.7" stroke="#111" stroke-width="1.6"/>
<polygon points="546.3,94 553,96.8 549.8,100.2" fill="#111"/>

</svg>
</body></html>
